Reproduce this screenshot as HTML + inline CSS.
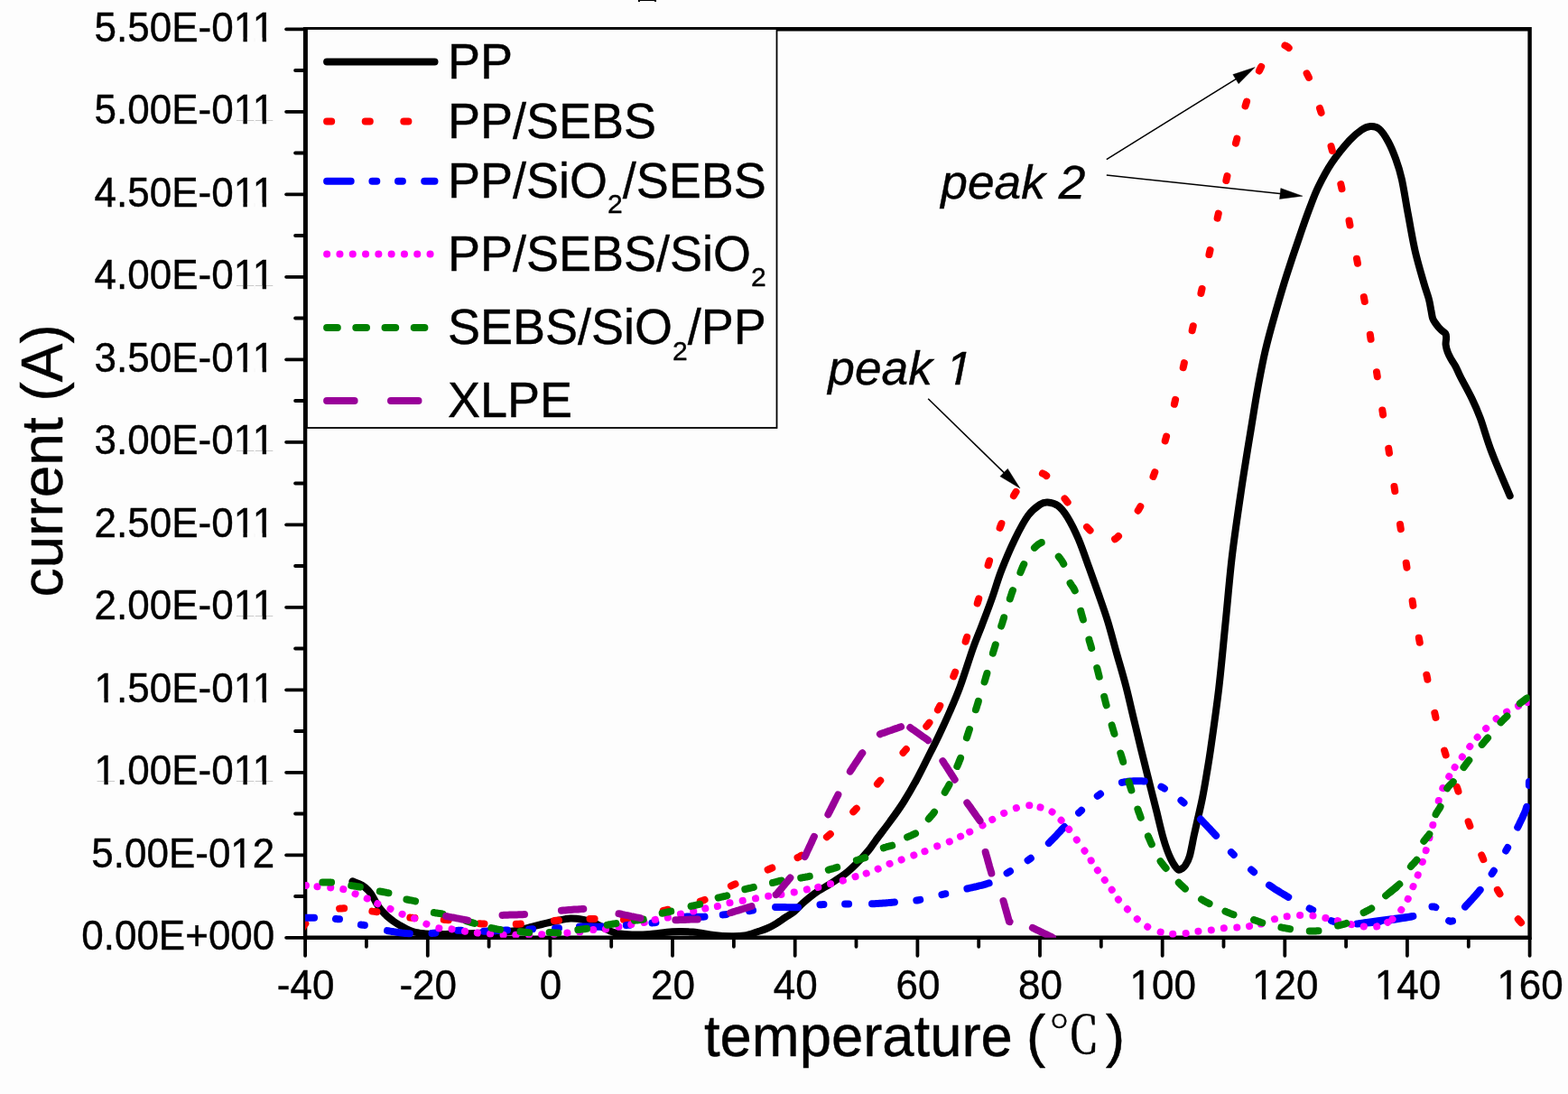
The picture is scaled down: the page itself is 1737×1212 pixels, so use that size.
<!DOCTYPE html>
<html><head><meta charset="utf-8"><title>TSDC current vs temperature</title>
<style>html,body{margin:0;padding:0;background:#fdfdfd;}svg{display:block;}</style>
</head><body>
<svg width="1737" height="1212" viewBox="0 0 1737 1212">
<rect width="1737" height="1212" fill="#fdfdfd"/>
<g stroke="#000" stroke-width="4.4" fill="none" stroke-linecap="square">
<path d="M338.1,32.3 V1038.8 H1694.6 V32.3 Z"/>
</g>
<g stroke="#000" stroke-width="3.8" stroke-linecap="round">
<line x1="317.1" y1="1038.8" x2="338.1" y2="1038.8"/>
<line x1="317.1" y1="947.3" x2="338.1" y2="947.3"/>
<line x1="317.1" y1="855.8" x2="338.1" y2="855.8"/>
<line x1="317.1" y1="764.3" x2="338.1" y2="764.3"/>
<line x1="317.1" y1="672.8" x2="338.1" y2="672.8"/>
<line x1="317.1" y1="581.3" x2="338.1" y2="581.3"/>
<line x1="317.1" y1="489.8" x2="338.1" y2="489.8"/>
<line x1="317.1" y1="398.3" x2="338.1" y2="398.3"/>
<line x1="317.1" y1="306.8" x2="338.1" y2="306.8"/>
<line x1="317.1" y1="215.3" x2="338.1" y2="215.3"/>
<line x1="317.1" y1="123.8" x2="338.1" y2="123.8"/>
<line x1="317.1" y1="32.3" x2="338.1" y2="32.3"/>
<line x1="327.1" y1="993.0" x2="338.1" y2="993.0"/>
<line x1="327.1" y1="901.5" x2="338.1" y2="901.5"/>
<line x1="327.1" y1="810.0" x2="338.1" y2="810.0"/>
<line x1="327.1" y1="718.5" x2="338.1" y2="718.5"/>
<line x1="327.1" y1="627.0" x2="338.1" y2="627.0"/>
<line x1="327.1" y1="535.5" x2="338.1" y2="535.5"/>
<line x1="327.1" y1="444.0" x2="338.1" y2="444.0"/>
<line x1="327.1" y1="352.5" x2="338.1" y2="352.5"/>
<line x1="327.1" y1="261.0" x2="338.1" y2="261.0"/>
<line x1="327.1" y1="169.5" x2="338.1" y2="169.5"/>
<line x1="327.1" y1="78.0" x2="338.1" y2="78.0"/>
<line x1="338.1" y1="1038.8" x2="338.1" y2="1058.8"/>
<line x1="473.8" y1="1038.8" x2="473.8" y2="1058.8"/>
<line x1="609.4" y1="1038.8" x2="609.4" y2="1058.8"/>
<line x1="745.0" y1="1038.8" x2="745.0" y2="1058.8"/>
<line x1="880.7" y1="1038.8" x2="880.7" y2="1058.8"/>
<line x1="1016.4" y1="1038.8" x2="1016.4" y2="1058.8"/>
<line x1="1152.0" y1="1038.8" x2="1152.0" y2="1058.8"/>
<line x1="1287.7" y1="1038.8" x2="1287.7" y2="1058.8"/>
<line x1="1423.3" y1="1038.8" x2="1423.3" y2="1058.8"/>
<line x1="1558.9" y1="1038.8" x2="1558.9" y2="1058.8"/>
<line x1="1694.6" y1="1038.8" x2="1694.6" y2="1058.8"/>
<line x1="405.9" y1="1038.8" x2="405.9" y2="1048.8"/>
<line x1="541.6" y1="1038.8" x2="541.6" y2="1048.8"/>
<line x1="677.2" y1="1038.8" x2="677.2" y2="1048.8"/>
<line x1="812.9" y1="1038.8" x2="812.9" y2="1048.8"/>
<line x1="948.5" y1="1038.8" x2="948.5" y2="1048.8"/>
<line x1="1084.2" y1="1038.8" x2="1084.2" y2="1048.8"/>
<line x1="1219.8" y1="1038.8" x2="1219.8" y2="1048.8"/>
<line x1="1355.5" y1="1038.8" x2="1355.5" y2="1048.8"/>
<line x1="1491.1" y1="1038.8" x2="1491.1" y2="1048.8"/>
<line x1="1626.8" y1="1038.8" x2="1626.8" y2="1048.8"/>
</g>
<defs><clipPath id="pc"><rect x="338.1" y="32.3" width="1356.5" height="1006.5"/></clipPath></defs>
<g clip-path="url(#pc)">
<path d="M390.5,976.3C392.2,977.0 398.1,979.1 401.0,980.8C403.9,982.5 406.1,984.5 408.0,986.5C409.9,988.5 411.0,990.1 412.5,992.5C414.0,994.9 415.4,998.2 417.2,1001.0C418.9,1003.8 420.9,1006.6 423.0,1009.0C425.1,1011.4 426.7,1013.2 429.5,1015.6C432.3,1018.0 436.2,1020.9 439.6,1023.1C443.0,1025.3 447.2,1027.5 450.1,1029.0C453.0,1030.5 454.8,1031.2 457.1,1032.0C459.5,1032.8 461.9,1033.2 464.2,1033.6C466.5,1034.0 468.6,1034.2 471.2,1034.5C473.8,1034.8 475.2,1035.0 480.0,1035.1C484.8,1035.1 493.3,1034.9 500.0,1034.8C506.7,1034.7 513.3,1034.5 520.0,1034.3C526.7,1034.1 534.2,1033.8 540.0,1033.6C545.8,1033.3 549.8,1033.2 555.0,1032.8C560.2,1032.4 565.9,1032.0 571.5,1031.0C577.1,1030.0 584.0,1028.1 588.8,1026.9C593.6,1025.7 595.5,1025.2 600.3,1024.0C605.1,1022.9 612.3,1021.1 617.6,1020.0C622.9,1018.9 627.2,1017.8 632.0,1017.6C636.8,1017.4 642.2,1018.3 646.4,1019.0C650.6,1019.7 653.4,1020.6 657.0,1022.0C660.6,1023.4 664.8,1025.9 668.0,1027.5C671.2,1029.1 673.2,1030.4 676.0,1031.5C678.8,1032.6 681.0,1033.6 685.0,1034.3C689.0,1035.0 694.2,1035.4 700.0,1035.5C705.8,1035.6 712.6,1035.5 720.0,1035.0C727.4,1034.5 736.6,1032.7 744.5,1032.3C752.4,1031.9 759.9,1032.0 767.6,1032.6C775.3,1033.2 783.5,1035.2 790.6,1036.0C797.7,1036.8 804.3,1037.2 810.0,1037.3C815.7,1037.4 820.0,1037.4 825.0,1036.5C830.0,1035.6 835.8,1033.3 839.9,1032.0C844.0,1030.7 846.5,1030.0 849.8,1028.5C853.1,1027.0 856.4,1025.3 859.7,1023.3C863.0,1021.3 866.3,1018.8 869.6,1016.6C872.9,1014.4 876.2,1012.9 879.5,1010.2C882.8,1007.5 885.5,1004.0 889.4,1000.6C893.3,997.2 898.0,993.2 903.0,989.6C908.0,986.0 914.0,982.8 919.5,979.3C925.0,975.8 931.0,972.1 936.0,968.3C941.0,964.5 944.8,960.8 949.2,956.4C953.6,952.0 958.9,946.1 962.4,941.9C965.9,937.7 966.1,936.6 970.0,931.3C973.9,926.0 980.8,917.1 986.0,910.0C991.2,902.9 996.2,896.1 1001.0,888.5C1005.8,880.9 1010.5,872.8 1015.0,864.5C1019.5,856.2 1023.8,847.3 1028.0,839.0C1032.2,830.7 1036.2,822.9 1040.2,814.5C1044.2,806.1 1048.1,797.7 1052.1,788.5C1056.1,779.3 1059.8,771.1 1064.0,759.5C1068.2,747.9 1073.7,730.1 1077.6,719.0C1081.5,707.9 1084.0,702.6 1087.6,693.1C1091.2,683.6 1095.6,672.2 1099.2,662.0C1102.8,651.8 1105.1,642.8 1109.3,632.0C1113.5,621.2 1119.2,607.6 1124.2,597.4C1129.2,587.2 1134.3,577.4 1139.0,571.0C1143.7,564.6 1148.6,561.2 1152.2,558.8C1155.8,556.4 1157.2,556.3 1160.5,556.5C1163.8,556.7 1168.4,557.5 1172.0,560.2C1175.6,562.9 1178.5,566.4 1182.3,572.6C1186.1,578.8 1190.8,588.0 1194.8,597.4C1198.8,606.8 1202.7,618.5 1206.4,628.7C1210.1,638.9 1213.5,648.4 1217.0,658.4C1220.5,668.4 1223.9,677.7 1227.3,688.8C1230.7,699.9 1233.9,712.8 1237.3,724.8C1240.7,736.8 1244.3,748.7 1247.4,760.7C1250.5,772.7 1253.2,785.2 1256.0,796.7C1258.8,808.2 1261.7,820.6 1264.0,830.0C1266.3,839.4 1267.8,845.3 1269.7,853.0C1271.6,860.7 1273.6,868.4 1275.5,876.1C1277.4,883.8 1279.2,890.6 1281.3,899.1C1283.4,907.6 1286.2,919.9 1288.2,927.0C1290.2,934.1 1291.5,937.9 1293.0,942.0C1294.5,946.1 1295.6,948.6 1297.0,951.5C1298.4,954.4 1300.1,957.5 1301.6,959.5C1303.0,961.5 1304.4,963.3 1305.7,963.8C1307.0,964.2 1308.2,963.1 1309.5,962.2C1310.8,961.3 1311.8,960.8 1313.2,958.5C1314.6,956.2 1316.2,954.0 1317.8,948.6C1319.4,943.2 1321.1,932.9 1322.6,926.0C1324.1,919.1 1325.4,913.9 1326.9,907.0C1328.5,900.1 1330.3,892.6 1331.9,884.6C1333.5,876.6 1335.0,867.9 1336.5,858.8C1338.0,849.7 1338.8,846.0 1341.1,830.0C1343.4,814.0 1347.4,786.3 1350.2,762.7C1353.0,739.1 1355.2,713.2 1357.7,688.5C1360.2,663.8 1362.1,639.0 1365.1,614.2C1368.1,589.5 1372.0,563.6 1375.5,540.0C1379.0,516.4 1383.3,490.8 1386.3,472.5C1389.3,454.2 1390.7,444.4 1393.3,430.4C1395.9,416.4 1398.4,402.3 1401.7,388.3C1405.0,374.3 1408.9,360.3 1412.9,346.3C1416.9,332.3 1421.0,318.2 1425.5,304.2C1430.0,290.2 1435.3,274.5 1439.6,262.1C1443.8,249.7 1447.5,239.2 1451.0,230.0C1454.5,220.8 1456.4,215.2 1460.4,207.0C1464.4,198.8 1469.4,189.1 1475.2,180.5C1481.0,171.9 1489.5,161.6 1495.0,155.5C1500.5,149.4 1504.4,146.6 1508.2,144.0C1512.0,141.4 1514.8,140.2 1518.1,140.0C1521.4,139.8 1524.7,140.2 1528.0,143.0C1531.3,145.8 1534.9,151.5 1537.9,157.0C1540.9,162.5 1543.7,169.3 1546.2,176.2C1548.7,183.1 1550.5,188.1 1552.8,198.3C1555.1,208.5 1557.4,224.3 1559.9,237.6C1562.4,250.9 1564.8,265.8 1567.7,278.3C1570.6,290.8 1574.6,304.1 1577.1,312.8C1579.6,321.5 1581.3,325.6 1582.7,330.7C1584.1,335.8 1584.5,339.4 1585.2,343.1C1586.0,346.8 1586.2,350.2 1587.2,353.0C1588.2,355.8 1589.8,357.5 1591.3,359.6C1592.8,361.7 1594.6,363.8 1596.3,365.4C1598.0,367.0 1600.2,368.0 1601.2,369.5C1602.2,371.0 1602.0,372.3 1602.1,374.4C1602.2,376.5 1601.3,379.3 1601.6,381.9C1601.9,384.5 1602.7,387.4 1603.7,390.1C1604.7,392.9 1606.3,395.6 1607.8,398.4C1609.3,401.1 1611.1,403.4 1612.8,406.6C1614.5,409.8 1615.0,411.7 1617.9,417.5C1620.8,423.3 1626.8,433.7 1630.4,441.3C1634.1,448.9 1636.1,453.3 1639.8,463.2C1643.5,473.1 1646.9,486.4 1652.4,500.8C1657.9,515.2 1669.3,541.3 1672.7,549.4" fill="none" stroke="#000000" stroke-width="8" stroke-linecap="round" stroke-linejoin="round"/>
<g fill="none" stroke="#ff0000" stroke-width="8" stroke-linecap="round" stroke-linejoin="round" stroke-dasharray="5.1 36.4">
<path d="M332.0,1034.5 332.2,1034.1 332.5,1033.6 332.8,1032.9 333.1,1032.3 333.5,1031.5 333.8,1030.7 334.3,1029.9 334.7,1029.1 335.1,1028.2 335.6,1027.3 336.1,1026.4 336.7,1025.6 337.2,1024.7 337.8,1023.9 338.4,1023.2 339.0,1022.5 339.6,1021.9 340.2,1021.2 340.9,1020.6 341.5,1020.0 342.2,1019.4 342.8,1018.8 343.5,1018.3 344.3,1017.7 345.0,1017.1 345.9,1016.6 346.7,1016.1 347.7,1015.5 348.6,1015.0 349.7,1014.5 350.8,1014.0 352.0,1013.5 353.3,1013.0 354.6,1012.4 355.8,1012.0" stroke-dashoffset="33.69"/>
<path d="M355.8,1012.0 356.0,1011.9 357.5,1011.3 359.0,1010.8 360.6,1010.2 362.2,1009.7 363.8,1009.2 365.6,1008.7 367.3,1008.2 369.1,1007.8 370.9,1007.4 372.8,1007.0 374.7,1006.8 376.6,1006.5 378.6,1006.4 380.6,1006.3 382.6,1006.3 384.7,1006.4 386.9,1006.4 389.0,1006.6 391.3,1006.8 393.5,1007.0 395.8,1007.3 396.8,1007.4" stroke-dashoffset="20.44"/>
<path d="M396.8,1007.4 398.1,1007.6 400.4,1007.9 402.8,1008.2 405.2,1008.5 407.6,1008.9 410.0,1009.2 412.5,1009.6 414.9,1009.9 417.4,1010.2 419.9,1010.6 422.5,1011.0 425.1,1011.5 427.8,1012.0 430.4,1012.4 433.1,1012.9 435.8,1013.4 435.9,1013.4" stroke-dashoffset="25.79"/>
<path d="M435.9,1013.4 438.5,1013.9 441.2,1014.4 443.9,1014.9 446.6,1015.3 449.2,1015.7 451.8,1016.1 454.4,1016.5 456.9,1016.8 459.4,1017.1 461.8,1017.3 464.2,1017.5 466.5,1017.7 468.9,1017.8 471.2,1017.9 473.5,1018.0 475.6,1018.1" stroke-dashoffset="22.77"/>
<path d="M475.6,1018.1 475.8,1018.1 478.1,1018.2 480.3,1018.3 482.6,1018.4 484.9,1018.5 487.2,1018.6 489.6,1018.7 491.9,1018.9 494.3,1019.1 496.7,1019.3 499.1,1019.6 501.5,1019.8 503.9,1020.1 506.4,1020.4 508.8,1020.7 511.2,1021.1 513.7,1021.4 514.1,1021.4" stroke-dashoffset="25.31"/>
<path d="M514.1,1021.4 516.1,1021.7 518.6,1022.0 521.1,1022.3 523.5,1022.6 526.0,1022.8 528.5,1023.0 531.0,1023.2 533.5,1023.4 536.0,1023.5 538.5,1023.7 541.0,1023.8 543.6,1023.9 546.1,1023.9 548.6,1024.0 551.2,1024.0 553.7,1024.1 554.1,1024.1" stroke-dashoffset="24.09"/>
<path d="M554.1,1024.1 556.3,1024.1 558.8,1024.1 561.4,1024.1 564.0,1024.0 566.5,1024.0 569.1,1023.9 571.7,1023.8 574.3,1023.7 576.9,1023.6 579.5,1023.4 582.1,1023.2 584.8,1023.0 587.4,1022.7 590.1,1022.4 592.8,1022.1 595.4,1021.8" stroke-dashoffset="23.88"/>
<path d="M595.4,1021.8 595.4,1021.8 598.1,1021.5 600.7,1021.2 603.4,1020.9 606.0,1020.6 608.6,1020.4 611.2,1020.1 613.8,1019.9 616.4,1019.7 619.0,1019.5 621.5,1019.4 624.0,1019.2 626.5,1019.0 629.1,1018.9 631.6,1018.8 634.1,1018.6 636.2,1018.5" stroke-dashoffset="22.90"/>
<path d="M636.2,1018.5 636.5,1018.5 639.0,1018.4 641.5,1018.3 643.9,1018.2 646.4,1018.1 648.8,1018.1 651.3,1018.0 653.7,1017.9 656.1,1017.9 658.5,1017.9 660.8,1017.9 663.2,1018.0 665.5,1018.1 667.7,1018.3 670.0,1018.4 672.3,1018.6 674.5,1018.7 674.8,1018.7" stroke-dashoffset="24.18"/>
<path d="M674.8,1018.7 676.8,1018.9 679.1,1019.0 681.4,1019.0 683.8,1019.1 686.1,1019.0 688.5,1018.9 691.0,1018.8 693.5,1018.5 696.1,1018.2 698.7,1017.7 701.4,1017.3 704.1,1016.7 706.8,1016.1 709.6,1015.5 712.4,1014.8 715.2,1014.1 715.5,1014.0" stroke-dashoffset="25.32"/>
<path d="M715.5,1014.0 718.0,1013.4 720.8,1012.6 723.6,1011.9 726.4,1011.1 729.2,1010.4 731.9,1009.7 734.6,1009.0 737.3,1008.3 739.9,1007.7 742.6,1007.0 745.2,1006.4 747.9,1005.9 750.5,1005.3 753.2,1004.7 755.8,1004.1 757.9,1003.6" stroke-dashoffset="21.55"/>
<path d="M757.9,1003.6 758.4,1003.5 760.9,1002.9 763.5,1002.3 766.0,1001.6 768.5,1000.9 771.0,1000.2 773.4,999.4 775.8,998.6 778.2,997.8 780.5,996.9 782.7,996.0 784.9,995.0 787.0,993.9 789.1,992.9 791.2,991.8 793.2,990.7 795.2,989.6 795.4,989.5" stroke-dashoffset="22.92"/>
<path d="M795.4,989.5 797.2,988.4 799.3,987.3 801.3,986.1 803.4,984.9 805.5,983.8 807.7,982.6 809.9,981.5 812.2,980.4 814.6,979.3 817.0,978.2 819.5,977.0 822.1,975.9 824.7,974.7 827.4,973.5 830.0,972.4 832.5,971.3" stroke-dashoffset="24.94"/>
<path d="M832.5,971.3 832.7,971.2 835.3,970.1 838.0,968.9 840.6,967.8 843.2,966.7 845.7,965.6 848.2,964.5 850.7,963.5 853.0,962.5 855.3,961.5 857.5,960.7 859.7,959.8 861.8,959.0 863.9,958.3 865.9,957.5 868.0,956.8 869.6,956.2" stroke-dashoffset="21.77"/>
<path d="M869.6,956.2 870.0,956.0 871.9,955.3 873.9,954.5 875.9,953.7 877.9,952.9 879.8,952.0 881.8,951.0 883.8,950.0 885.8,948.9 887.8,947.7 889.8,946.5 891.9,945.2 893.9,943.9 895.9,942.5 897.9,941.1 900.0,939.7 902.0,938.2 902.3,937.9" stroke-dashoffset="26.28"/>
<path d="M902.3,937.9 904.0,936.7 906.0,935.2 908.0,933.6 909.9,932.1 911.9,930.5 913.8,928.9 915.8,927.3 917.7,925.7 919.6,924.1 921.5,922.4 923.4,920.8 925.3,919.1 927.1,917.4 929.0,915.6 930.8,913.9 932.7,912.1 932.9,912.0" stroke-dashoffset="24.18"/>
<path d="M932.9,912.0 934.5,910.4 936.3,908.6 938.1,906.8 939.9,904.9 941.7,903.1 943.5,901.3 945.2,899.4 947.0,897.6 948.7,895.8 950.4,893.9 952.1,892.0 953.8,890.2 955.4,888.3 957.0,886.4 958.7,884.5 960.3,882.6 960.5,882.3" stroke-dashoffset="23.83"/>
<path d="M960.5,882.3 961.9,880.6 963.5,878.7 965.2,876.7 966.8,874.7 968.5,872.7 970.2,870.7 971.9,868.7 973.6,866.6 975.4,864.5 977.2,862.3 979.0,860.1 980.9,857.9 982.7,855.6 984.6,853.3 986.5,851.0 987.9,849.3" stroke-dashoffset="23.65"/>
<path d="M987.9,849.3 988.4,848.6 990.3,846.3 992.2,844.0 994.1,841.7 995.9,839.5 997.7,837.3 999.5,835.1 1001.3,833.0 1003.0,831.0 1004.7,829.0 1006.4,827.0 1008.1,825.1 1009.8,823.2 1011.5,821.3 1013.2,819.4 1014.9,817.6 1015.1,817.4" stroke-dashoffset="21.62"/>
<path d="M1015.1,817.4 1016.5,815.8 1018.1,814.0 1019.7,812.3 1021.2,810.6 1022.7,808.9 1024.1,807.3 1025.4,805.7 1026.7,804.2 1027.9,802.7 1029.0,801.3 1030.0,800.0 1030.9,798.9 1031.7,797.8 1032.5,796.8 1033.2,795.9 1033.9,794.9 1034.5,794.0 1034.6,793.8" stroke-dashoffset="24.54"/>
<path d="M1034.6,793.8 1035.1,793.1 1035.7,792.1 1036.4,791.0 1037.0,789.9 1037.7,788.7 1038.4,787.3 1039.2,785.8 1040.1,784.2 1041.0,782.4 1042.0,780.5 1043.1,778.4 1044.1,776.3 1045.2,774.0 1046.3,771.7 1047.5,769.4 1048.6,766.9 1049.1,765.8" stroke-dashoffset="32.94"/>
<path d="M1049.1,765.8 1049.7,764.5 1050.9,762.0 1052.0,759.5 1053.1,756.9 1054.2,754.4 1055.2,752.0 1056.2,749.5 1057.2,747.1 1058.1,744.7 1059.0,742.3 1059.9,740.0 1060.8,737.6 1061.6,735.2 1062.4,732.8 1063.3,730.4 1064.0,728.0 1064.1,727.8" stroke-dashoffset="23.62"/>
<path d="M1064.1,727.8 1064.8,725.6 1065.6,723.1 1066.4,720.7 1067.2,718.2 1068.0,715.7 1068.8,713.2 1069.6,710.7 1070.4,708.2 1071.2,705.6 1072.1,703.1 1072.9,700.5 1073.7,697.8 1074.5,695.2 1075.4,692.5 1076.2,689.9 1077.0,687.2 1077.1,687.1" stroke-dashoffset="23.51"/>
<path d="M1077.1,687.1 1077.9,684.5 1078.7,681.8 1079.5,679.1 1080.3,676.5 1081.1,673.8 1081.9,671.1 1082.7,668.4 1083.5,665.8 1084.3,663.2 1085.0,660.5 1085.8,657.9 1086.5,655.3 1087.2,652.6 1088.0,650.0 1088.7,647.4 1089.4,644.8" stroke-dashoffset="21.89"/>
<path d="M1089.4,644.8 1089.4,644.7 1090.1,642.1 1090.8,639.5 1091.6,636.9 1092.3,634.2 1093.0,631.6 1093.8,629.0 1094.5,626.4 1095.3,623.8 1096.1,621.2 1096.9,618.6 1097.7,615.9 1098.4,613.3 1099.2,610.6 1100.0,608.0 1100.8,605.4 1101.6,603.0" stroke-dashoffset="22.21"/>
<path d="M1101.6,603.0 1101.7,602.7 1102.5,600.1 1103.3,597.5 1104.1,595.0 1105.0,592.4 1105.9,589.9 1106.7,587.4 1107.6,584.9 1108.5,582.5 1109.4,580.1 1110.3,577.7 1111.3,575.2 1112.2,572.8 1113.2,570.4 1114.2,568.0 1115.2,565.6 1115.7,564.5" stroke-dashoffset="22.37"/>
<path d="M1115.7,564.5 1116.2,563.3 1117.2,561.0 1118.2,558.8 1119.2,556.6 1120.2,554.5 1121.2,552.5 1122.2,550.6 1123.2,548.7 1124.2,547.0 1125.2,545.4 1126.2,543.8 1127.1,542.3 1128.1,540.9 1129.1,539.6 1130.1,538.3 1131.0,537.1 1132.0,536.0 1133.0,534.9 1134.0,533.9 1135.0,533.0 1135.9,532.1 1136.9,531.2 1137.8,530.5" stroke-dashoffset="24.62"/>
<path d="M1137.8,530.5 1138.0,530.4 1139.0,529.7 1140.0,529.0 1141.0,528.3 1142.0,527.7 1143.0,527.0 1144.0,526.4 1145.0,525.8 1146.1,525.2 1147.1,524.8 1148.1,524.4 1149.1,524.1 1150.2,523.9 1151.3,523.8 1152.4,523.8 1153.5,524.0 1154.7,524.4 1155.9,524.9 1157.2,525.6 1158.5,526.5 1159.9,527.7 1161.3,529.0 1162.7,530.5 1164.1,532.2 1165.6,534.0 1167.1,535.9 1168.7,537.9 1169.8,539.4" stroke-dashoffset="22.53"/>
<path d="M1169.8,539.4 1170.2,540.0 1171.8,542.1 1173.3,544.2 1174.9,546.3 1176.5,548.5 1178.0,550.6 1179.6,552.6 1181.1,554.5 1182.6,556.4 1184.2,558.4 1185.8,560.5 1187.4,562.6 1189.0,564.8 1190.7,566.9 1192.3,569.1 1193.2,570.3" stroke-dashoffset="25.23"/>
<path d="M1193.2,570.3 1193.9,571.3 1195.5,573.4 1197.1,575.4 1198.7,577.4 1200.2,579.3 1201.7,581.1 1203.1,582.8 1204.5,584.4 1205.8,585.8 1207.0,587.1 1208.2,588.2 1209.4,589.3 1210.5,590.3 1211.5,591.2 1212.5,592.0 1213.5,592.8 1214.5,593.4 1215.4,594.0 1216.4,594.6 1217.3,595.1 1218.2,595.5 1219.1,596.0 1220.1,596.3 1220.3,596.4" stroke-dashoffset="24.11"/>
<path d="M1220.3,596.4 1221.0,596.7 1222.0,597.0 1223.0,597.3 1223.9,597.6 1224.8,598.0 1225.6,598.3 1226.5,598.6 1227.4,598.8 1228.2,599.0 1229.1,599.1 1229.9,599.1 1230.8,599.0 1231.8,598.8 1232.7,598.5 1233.8,598.0 1234.8,597.4 1236.0,596.7 1237.2,595.7 1238.5,594.5 1239.9,593.2 1241.4,591.7 1242.9,590.0 1244.5,588.1 1246.2,586.1 1247.8,584.1 1249.5,581.9 1250.6,580.4" stroke-dashoffset="25.88"/>
<path d="M1250.6,580.4 1251.2,579.6 1252.9,577.4 1254.5,575.0 1256.2,572.7 1257.7,570.3 1259.2,568.0 1260.7,565.7 1262.0,563.5 1263.3,561.3 1264.5,559.0 1265.6,556.8 1266.8,554.5 1267.9,552.1 1268.9,549.8 1269.9,547.4 1270.9,545.0 1271.0,544.9" stroke-dashoffset="23.66"/>
<path d="M1271.0,544.9 1271.9,542.6 1272.9,540.2 1273.8,537.8 1274.7,535.3 1275.7,532.9 1276.6,530.5 1277.5,528.0 1278.4,525.6 1279.3,523.2 1280.2,520.7 1281.1,518.3 1282.0,515.8 1282.8,513.4 1283.7,510.9 1284.5,508.5 1285.3,506.0 1285.3,505.9" stroke-dashoffset="23.38"/>
<path d="M1285.3,505.9 1286.1,503.5 1286.9,501.0 1287.7,498.5 1288.4,496.0 1289.2,493.5 1289.9,491.0 1290.7,488.5 1291.4,486.0 1292.1,483.5 1292.8,481.0 1293.5,478.4 1294.1,475.9 1294.8,473.4 1295.4,470.8 1296.0,468.3 1296.7,465.7 1296.7,465.7" stroke-dashoffset="23.20"/>
<path d="M1296.7,465.7 1297.3,463.2 1297.9,460.6 1298.5,458.1 1299.1,455.5 1299.7,452.9 1300.3,450.4 1300.9,447.8 1301.5,445.3 1302.1,442.8 1302.7,440.2 1303.4,437.7 1304.0,435.1 1304.6,432.6 1305.2,430.0 1305.8,427.5 1306.4,425.0 1306.4,425.0" stroke-dashoffset="23.08"/>
<path d="M1306.4,425.0 1307.0,422.4 1307.6,419.9 1308.2,417.3 1308.8,414.8 1309.5,412.2 1310.1,409.7 1310.7,407.1 1311.3,404.6 1311.9,402.0 1312.5,399.5 1313.2,396.9 1313.8,394.4 1314.4,391.8 1315.0,389.3 1315.6,386.7 1316.2,384.2 1316.3,384.2" stroke-dashoffset="23.12"/>
<path d="M1316.3,384.2 1316.9,381.6 1317.5,379.1 1318.1,376.5 1318.7,374.0 1319.3,371.4 1320.0,368.8 1320.6,366.3 1321.2,363.7 1321.8,361.1 1322.4,358.6 1323.1,356.0 1323.7,353.4 1324.3,350.9 1324.9,348.3 1325.5,345.7 1326.2,343.2 1326.2,343.1" stroke-dashoffset="23.01"/>
<path d="M1326.2,343.1 1326.8,340.6 1327.4,338.0 1328.0,335.4 1328.6,332.8 1329.2,330.2 1329.8,327.6 1330.4,325.0 1331.0,322.4 1331.6,319.8 1332.2,317.1 1332.7,314.4 1333.3,311.7 1333.9,309.0 1334.4,306.3 1335.0,303.6 1335.5,301.0" stroke-dashoffset="22.83"/>
<path d="M1335.5,301.0 1335.5,300.9 1336.1,298.2 1336.6,295.5 1337.2,292.8 1337.8,290.1 1338.3,287.4 1338.9,284.8 1339.4,282.1 1340.0,279.5 1340.6,276.9 1341.1,274.3 1341.7,271.8 1342.3,269.3 1342.8,266.7 1343.4,264.2 1344.0,261.7 1344.5,259.3" stroke-dashoffset="22.13"/>
<path d="M1344.5,259.3 1344.6,259.2 1345.1,256.7 1345.7,254.2 1346.3,251.7 1346.9,249.2 1347.4,246.7 1348.0,244.2 1348.6,241.7 1349.2,239.1 1349.8,236.5 1350.4,234.0 1351.0,231.4 1351.6,228.8 1352.2,226.2 1352.8,223.6 1353.4,221.0 1354.0,218.4 1354.0,218.3" stroke-dashoffset="23.33"/>
<path d="M1354.0,218.3 1354.6,215.7 1355.2,213.1 1355.8,210.5 1356.4,207.9 1357.0,205.3 1357.6,202.7 1358.3,200.1 1358.9,197.5 1359.5,194.9 1360.2,192.3 1360.8,189.7 1361.5,187.2 1362.2,184.6 1362.8,182.0 1363.5,179.4 1364.2,176.8" stroke-dashoffset="22.69"/>
<path d="M1364.2,176.8 1364.2,176.8 1364.9,174.2 1365.5,171.7 1366.2,169.1 1366.9,166.5 1367.6,163.9 1368.3,161.4 1368.9,158.8 1369.6,156.2 1370.3,153.6 1370.9,151.0 1371.5,148.4 1372.2,145.8 1372.8,143.2 1373.4,140.6 1374.0,138.0 1374.6,135.5" stroke-dashoffset="22.72"/>
<path d="M1374.6,135.5 1374.6,135.4 1375.3,132.9 1375.9,130.3 1376.6,127.7 1377.3,125.1 1378.0,122.6 1378.7,120.0 1379.5,117.5 1380.3,115.0 1381.1,112.5 1382.0,109.9 1383.0,107.3 1383.9,104.7 1384.9,102.0 1385.9,99.4 1386.9,96.8 1387.5,95.3" stroke-dashoffset="22.76"/>
<path d="M1387.5,95.3 1387.9,94.2 1389.0,91.7 1390.0,89.2 1391.1,86.8 1392.1,84.5 1393.1,82.2 1394.1,80.1 1395.1,78.1 1396.0,76.2 1396.9,74.4 1397.8,72.8 1398.7,71.2 1399.6,69.7 1400.4,68.3 1401.3,67.0 1402.2,65.7 1403.0,64.5 1403.8,63.4 1404.7,62.3 1405.6,61.3 1406.4,60.4 1407.3,59.5 1407.9,58.8" stroke-dashoffset="23.11"/>
<path d="M1407.9,58.8 1408.2,58.6 1409.1,57.8 1410.0,57.0 1410.9,56.2 1411.8,55.4 1412.7,54.6 1413.6,53.8 1414.5,53.0 1415.4,52.3 1416.4,51.6 1417.3,51.0 1418.2,50.6 1419.2,50.2 1420.2,50.0 1421.2,49.9 1422.3,50.0 1423.4,50.3 1424.5,50.8 1425.7,51.5 1427.0,52.5 1428.3,53.7 1429.7,55.1 1431.2,56.7 1432.7,58.5 1434.2,60.5 1435.8,62.6 1437.4,64.8 1438.6,66.6" stroke-dashoffset="22.89"/>
<path d="M1438.6,66.6 1438.9,67.1 1440.5,69.4 1442.0,71.8 1443.5,74.2 1444.9,76.6 1446.3,79.0 1447.6,81.3 1448.8,83.6 1449.9,85.8 1451.0,88.1 1452.0,90.4 1453.0,92.8 1453.9,95.1 1454.8,97.5 1455.6,99.9 1456.5,102.4 1456.6,102.7" stroke-dashoffset="24.16"/>
<path d="M1456.6,102.7 1457.3,104.8 1458.1,107.3 1458.8,109.8 1459.6,112.3 1460.4,114.8 1461.2,117.3 1462.0,119.9 1462.8,122.4 1463.6,124.9 1464.4,127.5 1465.2,130.1 1466.1,132.7 1466.9,135.3 1467.6,137.9 1468.4,140.6 1469.2,143.2 1469.2,143.4" stroke-dashoffset="23.40"/>
<path d="M1469.2,143.4 1470.0,145.9 1470.7,148.6 1471.5,151.2 1472.3,153.9 1473.0,156.6 1473.7,159.2 1474.5,161.9 1475.2,164.5 1475.9,167.1 1476.6,169.8 1477.3,172.4 1478.0,175.1 1478.7,177.7 1479.4,180.4 1480.1,183.0 1480.7,185.5" stroke-dashoffset="22.10"/>
<path d="M1480.7,185.5 1480.8,185.7 1481.4,188.3 1482.1,190.9 1482.7,193.6 1483.4,196.2 1484.0,198.8 1484.7,201.4 1485.3,204.0 1485.9,206.6 1486.5,209.2 1487.1,211.7 1487.7,214.3 1488.3,216.8 1488.9,219.3 1489.5,221.8 1490.0,224.3 1490.6,226.8" stroke-dashoffset="22.33"/>
<path d="M1490.6,226.8 1490.6,226.8 1491.1,229.3 1491.7,231.8 1492.3,234.3 1492.8,236.8 1493.4,239.3 1493.9,241.9 1494.5,244.4 1495.0,247.0 1495.5,249.6 1496.1,252.2 1496.6,254.8 1497.2,257.4 1497.7,260.1 1498.3,262.7 1498.8,265.4 1499.3,268.0 1499.4,268.1" stroke-dashoffset="23.34"/>
<path d="M1499.4,268.1 1499.9,270.7 1500.4,273.4 1500.9,276.0 1501.4,278.7 1502.0,281.3 1502.5,284.0 1503.0,286.7 1503.5,289.3 1504.0,291.9 1504.5,294.6 1505.0,297.2 1505.5,299.9 1506.0,302.5 1506.5,305.2 1507.0,307.8 1507.5,310.4" stroke-dashoffset="22.48"/>
<path d="M1507.5,310.4 1507.5,310.5 1508.0,313.1 1508.5,315.8 1509.0,318.4 1509.4,321.1 1509.9,323.7 1510.4,326.3 1510.8,329.0 1511.3,331.6 1511.8,334.2 1512.2,336.8 1512.6,339.5 1513.1,342.1 1513.5,344.7 1513.9,347.3 1514.4,349.9 1514.8,352.4" stroke-dashoffset="22.54"/>
<path d="M1514.8,352.4 1514.8,352.5 1515.2,355.1 1515.6,357.7 1516.1,360.3 1516.5,362.9 1516.9,365.5 1517.3,368.1 1517.8,370.7 1518.2,373.3 1518.6,375.9 1519.1,378.5 1519.5,381.1 1520.0,383.7 1520.5,386.2 1520.9,388.8 1521.4,391.4 1521.8,394.0 1521.8,394.0" stroke-dashoffset="22.92"/>
<path d="M1521.8,394.0 1522.3,396.5 1522.8,399.1 1523.2,401.7 1523.7,404.3 1524.1,406.9 1524.5,409.5 1525.0,412.1 1525.4,414.7 1525.8,417.3 1526.2,419.9 1526.6,422.6 1527.0,425.2 1527.4,427.9 1527.8,430.5 1528.2,433.1 1528.6,435.8 1528.6,435.8" stroke-dashoffset="23.04"/>
<path d="M1528.6,435.8 1529.0,438.4 1529.3,441.1 1529.7,443.8 1530.1,446.4 1530.5,449.1 1530.9,451.7 1531.3,454.4 1531.7,457.0 1532.1,459.6 1532.5,462.3 1533.0,464.9 1533.4,467.6 1533.8,470.2 1534.3,472.9 1534.7,475.5 1535.2,478.2" stroke-dashoffset="22.67"/>
<path d="M1535.2,478.2 1535.6,480.8 1536.0,483.4 1536.5,486.1 1536.9,488.7 1537.3,491.4 1537.8,494.0 1538.2,496.7 1538.6,499.3 1539.0,501.9 1539.4,504.6 1539.8,507.2 1540.2,509.9 1540.6,512.5 1541.0,515.2 1541.4,517.8 1541.8,520.4" stroke-dashoffset="22.62"/>
<path d="M1541.8,520.4 1541.8,520.5 1542.2,523.1 1542.5,525.8 1542.9,528.4 1543.3,531.0 1543.7,533.7 1544.1,536.3 1544.5,539.0 1544.9,541.6 1545.3,544.2 1545.7,546.9 1546.1,549.5 1546.5,552.1 1546.9,554.7 1547.3,557.3 1547.7,560.0 1548.1,562.6 1548.1,562.6" stroke-dashoffset="22.67"/>
<path d="M1548.1,562.6 1548.5,565.2 1548.9,567.8 1549.3,570.4 1549.8,573.1 1550.2,575.7 1550.6,578.3 1551.0,581.0 1551.4,583.6 1551.8,586.2 1552.2,588.9 1552.6,591.6 1553.1,594.2 1553.5,596.9 1553.9,599.6 1554.3,602.2 1554.7,604.9 1554.7,604.9" stroke-dashoffset="22.80"/>
<path d="M1554.7,604.9 1555.1,607.6 1555.6,610.2 1556.0,612.9 1556.4,615.6 1556.8,618.2 1557.3,620.9 1557.7,623.6 1558.1,626.2 1558.5,628.8 1559.0,631.5 1559.4,634.1 1559.8,636.8 1560.2,639.4 1560.7,642.1 1561.1,644.7 1561.5,647.3" stroke-dashoffset="22.49"/>
<path d="M1561.5,647.3 1561.5,647.4 1561.9,650.0 1562.4,652.6 1562.8,655.2 1563.2,657.9 1563.7,660.5 1564.1,663.1 1564.6,665.7 1565.0,668.3 1565.4,670.9 1565.9,673.5 1566.3,676.1 1566.8,678.6 1567.2,681.2 1567.7,683.8 1568.1,686.3 1568.5,688.8" stroke-dashoffset="22.72"/>
<path d="M1568.5,688.8 1568.5,688.9 1569.0,691.4 1569.4,694.0 1569.9,696.5 1570.4,699.1 1570.8,701.6 1571.3,704.2 1571.8,706.7 1572.3,709.3 1572.8,711.9 1573.3,714.4 1573.8,717.0 1574.3,719.5 1574.9,722.0 1575.4,724.6 1576.0,727.1 1576.5,729.7 1576.5,729.8" stroke-dashoffset="23.23"/>
<path d="M1576.5,729.8 1577.0,732.2 1577.6,734.8 1578.1,737.3 1578.7,739.9 1579.2,742.5 1579.8,745.0 1580.3,747.6 1580.9,750.2 1581.4,752.8 1582.0,755.4 1582.5,758.0 1583.1,760.7 1583.6,763.3 1584.2,766.0 1584.7,768.6 1585.2,771.2 1585.3,771.3" stroke-dashoffset="23.15"/>
<path d="M1585.3,771.3 1585.8,773.9 1586.4,776.6 1586.9,779.2 1587.5,781.9 1588.1,784.5 1588.7,787.1 1589.3,789.8 1589.9,792.4 1590.5,795.0 1591.2,797.6 1591.8,800.3 1592.4,802.9 1593.1,805.5 1593.8,808.1 1594.4,810.8 1595.1,813.3" stroke-dashoffset="22.47"/>
<path d="M1595.1,813.3 1595.1,813.4 1595.8,816.0 1596.5,818.6 1597.2,821.2 1597.9,823.8 1598.6,826.4 1599.4,829.0 1600.1,831.5 1600.9,834.1 1601.7,836.7 1602.5,839.2 1603.3,841.8 1604.2,844.3 1605.0,846.8 1605.9,849.4 1606.8,851.9 1607.6,854.3" stroke-dashoffset="22.48"/>
<path d="M1607.6,854.3 1607.7,854.4 1608.6,856.9 1609.5,859.4 1610.4,861.9 1611.3,864.4 1612.1,866.9 1613.0,869.4 1613.9,871.8 1614.7,874.3 1615.5,876.8 1616.3,879.2 1617.1,881.6 1617.9,884.1 1618.7,886.5 1619.5,888.9 1620.3,891.3 1621.0,893.5" stroke-dashoffset="22.80"/>
<path d="M1621.0,893.5 1621.0,893.7 1621.8,896.1 1622.6,898.5 1623.4,900.9 1624.2,903.2 1625.0,905.6 1625.8,908.0 1626.6,910.3 1627.5,912.7 1628.4,915.1 1629.2,917.4 1630.1,919.7 1631.0,922.0 1631.9,924.3 1632.8,926.7 1633.7,929.0 1634.6,931.3 1634.6,931.4" stroke-dashoffset="23.81"/>
<path d="M1634.6,931.4 1635.5,933.6 1636.4,935.9 1637.4,938.2 1638.3,940.5 1639.3,942.8 1640.3,945.1 1641.3,947.5 1642.3,949.8 1643.3,952.2 1644.4,954.6 1645.4,957.0 1646.4,959.4 1647.5,961.9 1648.6,964.4 1649.6,966.8 1650.7,969.2" stroke-dashoffset="24.08"/>
<path d="M1650.7,969.2 1650.7,969.3 1651.8,971.7 1653.0,974.1 1654.1,976.6 1655.3,978.9 1656.5,981.3 1657.7,983.6 1658.9,985.9 1660.2,988.1 1661.5,990.3 1662.9,992.6 1664.4,994.8 1665.9,997.1 1667.5,999.4 1669.1,1001.6 1670.7,1003.8 1671.2,1004.6" stroke-dashoffset="22.90"/>
<path d="M1671.2,1004.6 1672.3,1006.0 1673.8,1008.1 1675.4,1010.1 1676.9,1012.1 1678.3,1013.9 1679.7,1015.7 1681.0,1017.3 1682.2,1018.8 1683.3,1020.1 1684.3,1021.3 1685.2,1022.3 1686.1,1023.2 1686.9,1024.0 1687.6,1024.6 1688.3,1025.2 1689.0,1025.6 1689.6,1026.1 1690.1,1026.4 1690.7,1026.7 1691.1,1026.9 1691.6,1027.1 1692.0,1027.4 1692.3,1027.6 1692.7,1027.8 1693.0,1028.0" stroke-dashoffset="24.23"/>
</g>
<g fill="none" stroke="#0000ff" stroke-width="8" stroke-linecap="round" stroke-linejoin="round" stroke-dasharray="25 24 4 24.5 4 25">
<path d="M339.0,1016.8 339.4,1016.8 339.9,1016.8 340.4,1016.8 341.0,1016.8 341.7,1016.8 342.4,1016.8 343.2,1016.7 343.9,1016.7 344.8,1016.7 345.6,1016.7 346.5,1016.7 347.4,1016.7 348.3,1016.7 349.2,1016.8 350.1,1016.8 351.0,1016.8 351.9,1016.8 352.9,1016.9 353.9,1016.9 355.0,1017.0 356.1,1017.0 357.2,1017.1 358.4,1017.2 359.5,1017.2 360.6,1017.3 361.8,1017.4 362.9,1017.4 364.0,1017.5 365.1,1017.6 366.1,1017.7 367.1,1017.7 368.0,1017.8 368.9,1017.9 369.7,1017.9 370.5,1018.0 371.2,1018.0 372.0,1018.0 372.6,1018.1 373.3,1018.1 374.0,1018.2 374.7,1018.2 375.4,1018.3 376.0,1018.3 376.8,1018.4 377.5,1018.5 378.3,1018.7 379.1,1018.8 380.0,1019.0 380.9,1019.2 381.9,1019.5 383.0,1019.8 384.1,1020.1 385.2,1020.4 386.3,1020.8 387.5,1021.1 388.0,1021.3" stroke-dashoffset="15.93"/>
<path d="M388.0,1021.3 388.6,1021.5 389.8,1021.9 390.9,1022.2 392.0,1022.6 393.1,1022.9 394.2,1023.2 395.2,1023.5 396.1,1023.8 397.0,1024.0 397.8,1024.2 398.5,1024.3 399.2,1024.4 399.8,1024.5 400.3,1024.6 400.8,1024.7 401.3,1024.7 401.8,1024.7 402.3,1024.8 402.8,1024.8 403.4,1024.9 404.0,1024.9 404.6,1025.0 405.3,1025.2 406.1,1025.3 407.0,1025.5 408.0,1025.7 409.0,1026.0 410.0,1026.3 411.1,1026.6 412.2,1026.9 413.4,1027.2 414.6,1027.6 415.8,1028.0 417.1,1028.3 418.4,1028.7 419.7,1029.1 421.1,1029.4 421.5,1029.5" stroke-dashoffset="65.15"/>
<path d="M421.5,1029.5 422.6,1029.8 424.0,1030.1 425.5,1030.4 427.0,1030.7 428.6,1031.0 430.2,1031.3 432.0,1031.6 433.7,1031.9 435.6,1032.1 437.4,1032.4 439.3,1032.7 441.2,1033.0 443.2,1033.2 445.1,1033.5 447.0,1033.7 448.9,1033.9 450.7,1034.1 452.6,1034.2 454.3,1034.4 456.0,1034.5 457.6,1034.6 459.2,1034.6 460.8,1034.7 460.9,1034.7" stroke-dashoffset="98.78"/>
<path d="M460.9,1034.7 462.3,1034.7 463.8,1034.7 465.3,1034.7 466.8,1034.6 468.2,1034.6 469.7,1034.5 471.1,1034.4 472.6,1034.3 474.0,1034.2 475.5,1034.1 477.0,1034.0 478.5,1033.9 480.0,1033.8 481.6,1033.7 483.2,1033.5 484.9,1033.4 486.6,1033.2 488.3,1033.0 490.0,1032.8 491.7,1032.6 493.4,1032.4 494.7,1032.2" stroke-dashoffset="31.40"/>
<path d="M494.7,1032.2 495.1,1032.2 496.8,1032.0 498.3,1031.8 499.9,1031.6 501.3,1031.4 502.6,1031.2 503.9,1031.1 505.0,1031.0 506.0,1030.9 506.8,1030.8 507.5,1030.8 508.1,1030.7 508.6,1030.7 509.0,1030.7 509.4,1030.7 509.8,1030.7 510.1,1030.7 510.4,1030.7 510.8,1030.7 511.3,1030.7 511.8,1030.7 512.4,1030.8 513.1,1030.8 514.0,1030.8 515.0,1030.8 516.0,1030.9 517.1,1030.9 518.3,1031.0 519.5,1031.1 520.8,1031.1 522.1,1031.2 523.5,1031.3 524.9,1031.4 526.3,1031.5 527.7,1031.5 529.2,1031.6 530.6,1031.6 532.1,1031.7 533.6,1031.7 535.0,1031.7 536.4,1031.7 537.9,1031.7 539.4,1031.6 540.9,1031.6 542.4,1031.5 544.0,1031.4 545.5,1031.4 547.1,1031.3 548.5,1031.2" stroke-dashoffset="65.19"/>
<path d="M548.5,1031.2 548.6,1031.2 550.2,1031.1 551.8,1031.0 553.4,1030.9 555.1,1030.8 556.7,1030.8 558.3,1030.7 560.0,1030.6 561.7,1030.5 563.3,1030.5 565.1,1030.4 566.8,1030.3 568.5,1030.2 570.2,1030.2 572.0,1030.1 573.8,1030.0 575.5,1029.9 577.3,1029.8 579.1,1029.8 580.9,1029.7 582.6,1029.6 584.4,1029.5 586.2,1029.5 588.0,1029.4 589.8,1029.3 591.6,1029.3 593.5,1029.2 595.3,1029.1 597.2,1029.1 599.0,1029.0 600.9,1028.9 602.5,1028.9" stroke-dashoffset="11.43"/>
<path d="M602.5,1028.9 602.8,1028.9 604.6,1028.8 606.5,1028.8 608.3,1028.7 610.1,1028.6 611.9,1028.5 613.6,1028.5 615.3,1028.4 617.0,1028.3 618.6,1028.2 620.2,1028.1 621.7,1028.0 623.2,1027.9 624.6,1027.8 626.0,1027.6 627.4,1027.5 628.8,1027.4 630.2,1027.3 631.6,1027.1 633.0,1027.0 634.5,1026.9 635.7,1026.8" stroke-dashoffset="64.99"/>
<path d="M635.7,1026.8 635.9,1026.8 637.4,1026.7 638.9,1026.7 640.5,1026.6 642.1,1026.6 643.8,1026.5 645.4,1026.5 647.1,1026.5 648.8,1026.5 650.6,1026.6 652.3,1026.6 654.1,1026.6 655.9,1026.6 657.6,1026.7 659.4,1026.7 661.2,1026.7 663.0,1026.7 664.7,1026.7 666.5,1026.6 668.2,1026.6 669.9,1026.5 671.6,1026.5 673.4,1026.4 675.1,1026.3 675.1,1026.3" stroke-dashoffset="100.27"/>
<path d="M675.1,1026.3 676.8,1026.2 678.5,1026.1 680.2,1026.0 681.9,1025.9 683.6,1025.7 685.3,1025.6 687.1,1025.5 688.8,1025.3 690.5,1025.2 692.3,1025.1 694.0,1024.9 695.8,1024.8 697.6,1024.7 699.4,1024.5 701.3,1024.4 703.2,1024.2 705.1,1024.1 707.0,1023.9 709.0,1023.8 710.1,1023.6" stroke-dashoffset="30.27"/>
<path d="M710.1,1023.6 710.9,1023.6 712.8,1023.4 714.7,1023.3 716.5,1023.1 718.3,1022.9 720.1,1022.7 721.8,1022.6 723.4,1022.4 725.0,1022.2 726.5,1022.0 728.0,1021.8 729.4,1021.6 730.8,1021.4 732.1,1021.2 733.4,1021.0 734.7,1020.8 735.9,1020.6 737.1,1020.4 738.3,1020.2 739.5,1020.0 740.6,1019.8 741.7,1019.6 742.8,1019.4 743.9,1019.2 745.0,1019.0 746.1,1018.8 746.3,1018.7" stroke-dashoffset="65.11"/>
<path d="M746.3,1018.7 747.0,1018.6 748.0,1018.3 748.9,1018.1 749.8,1017.9 750.6,1017.6 751.5,1017.4 752.3,1017.1 753.1,1016.9 754.0,1016.7 754.8,1016.5 755.7,1016.3 756.6,1016.1 757.6,1016.0 758.6,1015.8 759.6,1015.7 760.7,1015.6 761.8,1015.6 762.9,1015.5 764.1,1015.5 765.3,1015.5 766.5,1015.6 767.7,1015.6 768.9,1015.6 770.2,1015.7 771.5,1015.7 772.8,1015.8 774.1,1015.8 775.4,1015.8 776.7,1015.8 778.1,1015.8 779.4,1015.7 780.8,1015.6 782.1,1015.5 783.5,1015.4 784.9,1015.3 785.4,1015.2" stroke-dashoffset="96.90"/>
<path d="M785.4,1015.2 786.3,1015.2 787.7,1015.0 789.1,1014.9 790.6,1014.7 792.0,1014.6 793.5,1014.4 795.0,1014.2 796.5,1014.0 798.1,1013.8 799.7,1013.6 801.3,1013.4 802.9,1013.2 804.6,1013.0 806.3,1012.7 808.1,1012.5 809.9,1012.2 811.7,1012.0 813.6,1011.7 815.5,1011.4 817.4,1011.1 817.4,1011.1" stroke-dashoffset="33.57"/>
<path d="M817.4,1011.1 819.3,1010.8 821.2,1010.5 823.1,1010.3 824.9,1010.0 826.8,1009.7 828.6,1009.4 830.3,1009.2 832.0,1008.9 833.6,1008.6 835.2,1008.4 836.7,1008.1 838.2,1007.8 839.7,1007.6 841.1,1007.3 842.5,1007.0 843.9,1006.8 845.3,1006.5 846.8,1006.3 848.2,1006.1 849.7,1005.9 851.2,1005.7 851.7,1005.6" stroke-dashoffset="64.65"/>
<path d="M851.7,1005.6 852.8,1005.5 854.4,1005.3 856.1,1005.2 857.9,1005.1 859.7,1005.0 861.6,1005.0 863.6,1005.0 865.5,1005.0 867.6,1005.1 869.6,1005.1 871.7,1005.2 873.7,1005.2 875.8,1005.3 877.8,1005.3 879.8,1005.3 881.7,1005.3 883.6,1005.3 885.4,1005.3 887.1,1005.2 888.7,1005.1 890.3,1005.0 891.1,1004.9" stroke-dashoffset="99.11"/>
<path d="M891.1,1004.9 891.8,1004.8 893.3,1004.6 894.7,1004.4 896.1,1004.2 897.4,1004.0 898.8,1003.7 900.1,1003.5 901.5,1003.3 902.8,1003.1 904.2,1002.9 905.6,1002.7 907.0,1002.5 908.5,1002.3 910.1,1002.2 911.7,1002.1 913.4,1002.0 915.1,1001.9 916.8,1001.8 918.6,1001.8 920.4,1001.7 922.2,1001.7 924.0,1001.7 924.3,1001.7" stroke-dashoffset="31.43"/>
<path d="M924.3,1001.7 925.8,1001.6 927.6,1001.6 929.4,1001.6 931.2,1001.6 933.0,1001.6 934.7,1001.5 936.4,1001.5 938.1,1001.5 939.7,1001.5 941.3,1001.5 942.9,1001.5 944.5,1001.5 946.0,1001.5 947.5,1001.5 949.0,1001.6 950.6,1001.6 952.1,1001.6 953.6,1001.6 955.1,1001.6 956.7,1001.6 958.3,1001.6 958.3,1001.6" stroke-dashoffset="65.70"/>
<path d="M958.3,1001.6 959.9,1001.6 961.6,1001.6 963.3,1001.5 965.1,1001.4 966.9,1001.3 968.8,1001.2 970.7,1001.1 972.6,1001.0 974.6,1000.8 976.6,1000.7 978.5,1000.5 980.5,1000.4 982.5,1000.2 984.4,1000.1 986.4,999.9 988.3,999.7 990.1,999.6 991.9,999.4 993.6,999.3 995.3,999.2 996.8,999.1 997.9,999.0" stroke-dashoffset="98.78"/>
<path d="M997.9,999.0 998.4,999.0 999.9,998.9 1001.3,998.8 1002.8,998.7 1004.2,998.6 1005.6,998.5 1007.0,998.4 1008.4,998.3 1009.8,998.2 1011.2,998.0 1012.7,997.9 1014.2,997.7 1015.7,997.5 1017.3,997.2 1018.9,996.9 1020.6,996.6 1022.3,996.2 1024.1,995.9 1025.9,995.5 1027.7,995.1 1029.5,994.6 1031.3,994.2 1031.4,994.2" stroke-dashoffset="31.53"/>
<path d="M1031.4,994.2 1033.1,993.7 1034.9,993.3 1036.7,992.8 1038.5,992.4 1040.3,991.9 1042.0,991.5 1043.7,991.1 1045.4,990.7 1047.0,990.3 1048.6,990.0 1050.2,989.6 1051.7,989.2 1053.2,988.9 1054.7,988.5 1056.2,988.2 1057.6,987.8 1059.1,987.5 1060.6,987.1 1062.1,986.8 1063.6,986.4 1064.5,986.2" stroke-dashoffset="65.08"/>
<path d="M1064.5,986.2 1065.1,986.1 1066.6,985.7 1068.2,985.3 1069.8,984.9 1071.4,984.5 1073.1,984.1 1074.9,983.7 1076.6,983.3 1078.4,982.9 1080.2,982.5 1082.0,982.1 1083.8,981.6 1085.6,981.2 1087.3,980.8 1089.1,980.3 1090.8,979.8 1092.5,979.3 1094.1,978.8 1095.7,978.3 1097.2,977.7 1098.7,977.1 1100.0,976.5 1101.3,975.9" stroke-dashoffset="99.38"/>
<path d="M1101.3,975.9 1101.4,975.9 1102.7,975.2 1103.9,974.5 1105.1,973.9 1106.3,973.2 1107.5,972.4 1108.7,971.7 1109.9,971.0 1111.0,970.2 1112.2,969.5 1113.5,968.7 1114.7,967.9 1116.0,967.1 1117.3,966.3 1118.7,965.5 1120.1,964.7 1121.5,963.8 1122.9,963.0 1124.4,962.1 1125.8,961.3 1127.3,960.4 1128.8,959.5 1128.9,959.4" stroke-dashoffset="32.33"/>
<path d="M1128.9,959.4 1130.3,958.6 1131.8,957.7 1133.2,956.7 1134.7,955.8 1136.1,954.9 1137.5,953.9 1138.9,953.0 1140.3,952.0 1141.6,951.0 1143.0,950.1 1144.2,949.1 1145.5,948.1 1146.8,947.1 1148.0,946.1 1149.3,945.1 1150.5,944.1 1151.8,943.1 1153.0,942.0 1154.2,941.0 1155.4,939.9 1156.1,939.3" stroke-dashoffset="65.95"/>
<path d="M1156.1,939.3 1156.7,938.8 1157.9,937.7 1159.1,936.6 1160.4,935.4 1161.7,934.2 1162.9,933.0 1164.2,931.7 1165.5,930.3 1166.8,929.0 1168.2,927.6 1169.5,926.3 1170.8,924.9 1172.0,923.5 1173.3,922.1 1174.6,920.8 1175.8,919.4 1177.1,918.1 1178.3,916.9 1179.5,915.7 1180.6,914.5 1181.7,913.4 1182.8,912.3 1183.3,911.8" stroke-dashoffset="98.71"/>
<path d="M1183.3,911.8 1183.8,911.3 1184.8,910.3 1185.7,909.4 1186.7,908.5 1187.6,907.5 1188.6,906.6 1189.5,905.7 1190.4,904.9 1191.4,903.9 1192.4,903.0 1193.4,902.1 1194.4,901.1 1195.5,900.1 1196.6,899.1 1197.8,898.0 1199.0,896.9 1200.2,895.8 1201.4,894.6 1202.7,893.4 1203.9,892.2 1205.2,891.0 1206.5,889.8 1206.7,889.6" stroke-dashoffset="32.61"/>
<path d="M1206.7,889.6 1207.8,888.6 1209.2,887.4 1210.5,886.2 1211.9,885.0 1213.3,883.9 1214.6,882.8 1216.0,881.7 1217.4,880.7 1218.8,879.7 1220.2,878.7 1221.6,877.7 1223.0,876.7 1224.4,875.8 1225.8,874.8 1227.3,873.9 1228.7,873.0 1230.2,872.1 1231.7,871.3 1233.2,870.5 1234.7,869.8 1235.0,869.6" stroke-dashoffset="65.60"/>
<path d="M1235.0,869.6 1236.2,869.1 1237.8,868.5 1239.4,867.9 1241.0,867.4 1242.7,867.0 1244.4,866.6 1246.2,866.2 1248.1,866.0 1249.9,865.7 1251.8,865.5 1253.8,865.4 1255.7,865.3 1257.6,865.2 1259.5,865.2 1261.3,865.2 1263.1,865.2 1264.9,865.3 1266.6,865.4 1268.2,865.5 1269.7,865.7 1271.1,865.9 1272.4,866.1" stroke-dashoffset="98.13"/>
<path d="M1272.4,866.1 1272.5,866.1 1273.8,866.3 1275.0,866.6 1276.1,866.9 1277.2,867.3 1278.3,867.7 1279.4,868.1 1280.4,868.5 1281.5,869.0 1282.5,869.5 1283.6,870.1 1284.7,870.7 1285.8,871.3 1287.0,871.9 1288.2,872.6 1289.5,873.3 1290.8,874.1 1292.1,874.9 1293.5,875.8 1294.9,876.7 1296.3,877.7 1297.7,878.6 1299.1,879.6 1299.4,879.9" stroke-dashoffset="33.85"/>
<path d="M1299.4,879.9 1300.5,880.6 1301.9,881.7 1303.3,882.7 1304.7,883.8 1306.0,884.9 1307.4,886.0 1308.7,887.0 1310.0,888.1 1311.3,889.2 1312.5,890.3 1313.7,891.3 1314.9,892.5 1316.1,893.6 1317.3,894.7 1318.5,895.9 1319.6,897.0 1320.8,898.2 1321.9,899.4 1323.1,900.5 1324.3,901.7 1324.6,902.1" stroke-dashoffset="66.11"/>
<path d="M1324.6,902.1 1325.4,902.9 1326.6,904.2 1327.8,905.4 1329.0,906.6 1330.2,907.8 1331.5,909.1 1332.7,910.4 1333.9,911.7 1335.2,913.1 1336.5,914.4 1337.7,915.7 1339.0,917.1 1340.3,918.4 1341.5,919.8 1342.7,921.1 1344.0,922.4 1345.2,923.7 1346.4,925.0 1347.6,926.3 1348.7,927.5 1349.8,928.7 1350.9,929.9 1351.9,931.0 1352.0,931.1" stroke-dashoffset="98.78"/>
<path d="M1352.0,931.1 1352.9,932.2 1353.9,933.3 1354.9,934.4 1355.9,935.5 1356.8,936.6 1357.8,937.7 1358.8,938.8 1359.8,939.9 1360.8,941.0 1361.9,942.1 1363.0,943.2 1364.1,944.3 1365.3,945.5 1366.5,946.7 1367.9,947.9 1369.2,949.1 1370.6,950.4 1372.0,951.6 1373.5,952.9 1375.0,954.2 1376.3,955.3" stroke-dashoffset="31.34"/>
<path d="M1376.3,955.3 1376.5,955.4 1377.9,956.7 1379.4,957.9 1380.9,959.2 1382.3,960.4 1383.7,961.6 1385.1,962.7 1386.4,963.8 1387.6,964.9 1388.8,965.9 1389.9,966.9 1390.9,967.9 1391.9,968.8 1392.9,969.7 1393.8,970.6 1394.8,971.5 1395.7,972.3 1396.6,973.2 1397.5,974.0 1398.5,974.9 1399.5,975.7 1400.6,976.6 1401.3,977.2" stroke-dashoffset="64.72"/>
<path d="M1401.3,977.2 1401.7,977.5 1402.8,978.4 1404.1,979.3 1405.4,980.3 1406.8,981.2 1408.3,982.2 1409.8,983.2 1411.4,984.3 1413.0,985.3 1414.6,986.3 1416.3,987.3 1417.9,988.4 1419.6,989.4 1421.3,990.4 1422.9,991.4 1424.6,992.3 1426.2,993.3 1427.8,994.2 1429.3,995.1 1430.8,996.0 1432.3,996.8 1433.8,997.6 1434.2,997.9" stroke-dashoffset="100.60"/>
<path d="M1434.2,997.9 1435.2,998.4 1436.7,999.2 1438.1,999.9 1439.5,1000.7 1441.0,1001.4 1442.4,1002.1 1443.8,1002.9 1445.2,1003.6 1446.7,1004.3 1448.1,1005.1 1449.6,1005.8 1451.0,1006.6 1452.5,1007.4 1454.0,1008.2 1455.5,1009.1 1457.0,1010.0 1458.4,1010.9 1459.9,1011.8 1461.4,1012.8 1462.9,1013.7 1464.3,1014.6" stroke-dashoffset="30.48"/>
<path d="M1464.3,1014.6 1464.4,1014.6 1466.0,1015.6 1467.5,1016.4 1469.0,1017.3 1470.5,1018.1 1472.1,1018.8 1473.6,1019.5 1475.2,1020.2 1476.8,1020.7 1478.3,1021.2 1479.8,1021.6 1481.1,1022.0 1482.4,1022.4 1483.7,1022.7 1485.0,1023.0 1486.3,1023.3 1487.6,1023.5 1489.0,1023.6 1490.6,1023.7 1492.2,1023.8 1494.0,1023.8 1496.0,1023.8 1498.2,1023.8 1500.6,1023.7 1503.3,1023.5 1506.3,1023.3 1509.7,1023.0 1513.5,1022.6 1517.5,1022.2 1521.8,1021.7 1526.2,1021.2 1530.7,1020.6 1534.0,1020.2" stroke-dashoffset="65.57"/>
<path d="M1534.0,1020.2 1535.3,1020.0 1539.9,1019.4 1544.4,1018.8 1548.7,1018.1 1552.9,1017.4 1556.9,1016.8 1560.5,1016.1 1563.8,1015.5 1566.7,1014.9 1569.2,1014.3 1571.4,1013.5 1573.4,1012.7 1575.2,1011.8 1576.7,1010.9 1578.1,1010.0 1579.3,1009.0 1580.4,1008.1 1581.4,1007.3 1582.4,1006.5 1583.3,1005.8 1584.3,1005.3 1585.2,1004.8 1586.2,1004.5 1587.3,1004.4 1588.5,1004.5 1589.8,1004.8 1591.0,1005.5 1592.2,1006.3 1593.4,1007.4 1594.6,1008.6 1595.8,1010.0 1597.0,1011.4 1597.9,1012.5" stroke-dashoffset="99.73"/>
<path d="M1597.9,1012.5 1598.2,1012.9 1599.3,1014.3 1600.5,1015.7 1601.6,1017.0 1602.7,1018.2 1603.8,1019.2 1604.9,1020.0 1605.9,1020.5 1607.0,1020.7 1608.0,1020.6 1609.0,1020.4 1610.0,1019.9 1610.9,1019.3 1611.8,1018.5 1612.7,1017.6 1613.6,1016.6 1614.5,1015.5 1615.4,1014.3 1616.2,1013.1 1617.1,1011.8 1618.0,1010.5 1619.0,1009.3 1619.4,1008.6" stroke-dashoffset="66.94"/>
<path d="M1619.4,1008.6 1619.9,1008.0 1620.9,1006.8 1621.9,1005.7 1623.0,1004.6 1624.0,1003.4 1625.2,1002.2 1626.3,1001.0 1627.5,999.7 1628.6,998.5 1629.8,997.2 1631.0,995.9 1632.2,994.5 1633.4,993.2 1634.6,991.9 1635.7,990.6 1636.8,989.3 1637.9,988.0 1639.0,986.7 1640.0,985.5 1641.0,984.3 1641.9,983.1 1642.8,981.9 1643.3,981.4" stroke-dashoffset="101.09"/>
<path d="M1643.3,981.4 1643.7,980.8 1644.6,979.7 1645.4,978.5 1646.2,977.4 1647.1,976.3 1647.9,975.1 1648.7,974.0 1649.5,972.8 1650.3,971.6 1651.2,970.4 1652.0,969.1 1652.9,967.8 1653.8,966.4 1654.7,965.0 1655.7,963.5 1656.6,962.0 1657.6,960.4 1658.6,958.8 1659.6,957.2 1660.6,955.5 1661.6,953.8 1661.7,953.7" stroke-dashoffset="32.69"/>
<path d="M1661.7,953.7 1662.6,952.2 1663.6,950.5 1664.6,948.8 1665.6,947.2 1666.5,945.5 1667.5,943.9 1668.3,942.3 1669.2,940.8 1670.0,939.3 1670.8,937.8 1671.6,936.4 1672.3,935.0 1673.1,933.6 1673.8,932.2 1674.5,930.8 1675.2,929.4 1675.9,928.0 1676.6,926.6 1677.2,925.2 1677.9,923.8 1678.6,922.3 1679.3,920.8 1680.0,919.3 1680.7,917.8 1681.4,916.2 1682.2,914.6 1683.0,913.0 1683.8,911.3 1684.6,909.6 1685.4,908.0 1686.3,906.2 1687.1,904.5 1687.8,902.8 1688.6,901.1 1689.3,899.4 1690.0,897.6 1690.6,895.9 1691.2,894.2 1691.7,892.6 1692.2,890.9 1692.6,889.2 1692.9,887.4 1693.2,885.6 1693.4,883.7 1693.5,881.9 1693.7,880.0 1693.8,878.1 1693.8,876.3 1693.9,874.5 1693.9,872.8 1693.9,871.1 1693.9,869.6 1693.9,868.2 1693.9,867.0 1694.0,865.9 1694.0,865.0" stroke-dashoffset="64.56"/>
</g>
<path d="M1507,1022.9 L1562.8,1015.4" stroke="#0000ff" stroke-width="8" stroke-linecap="round" fill="none"/>
<g fill="none" stroke="#ff00ff" stroke-width="8" stroke-linecap="round" stroke-linejoin="round" stroke-dasharray="0.1 14.1">
<path d="M338.9,981.1 339.3,981.1 339.9,981.2 340.5,981.2 341.1,981.3 341.8,981.4 342.6,981.4 343.4,981.5 344.3,981.6 345.2,981.7 345.2,981.7" stroke-dashoffset="0.05"/>
<path d="M345.2,981.7 346.1,981.7 347.0,981.8 347.9,981.9 348.8,982.0 349.7,982.1 350.6,982.1 351.5,982.2 352.4,982.3 353.2,982.3 354.1,982.4 355.0,982.5 356.0,982.6 356.9,982.6 357.8,982.7 358.8,982.8 358.9,982.8" stroke-dashoffset="7.93"/>
<path d="M358.9,982.8 359.7,982.8 360.6,982.9 361.6,983.0 362.5,983.1 363.5,983.1 364.4,983.2 365.3,983.3 366.2,983.4 367.1,983.5 368.0,983.6 368.9,983.6 369.8,983.7 370.7,983.8 371.6,983.8 372.5,983.9 373.3,984.0" stroke-dashoffset="6.88"/>
<path d="M373.3,984.0 373.3,984.0 374.2,984.1 375.1,984.2 376.0,984.3 376.8,984.4 377.7,984.6 378.6,984.7 379.4,984.9 380.3,985.1 381.2,985.3 382.0,985.6 382.8,985.9 383.7,986.2 384.5,986.5 385.4,986.8 386.2,987.1 387.0,987.5 387.0,987.5" stroke-dashoffset="7.14"/>
<path d="M387.0,987.5 387.8,987.8 388.7,988.2 389.5,988.6 390.3,988.9 391.1,989.3 391.9,989.6 392.8,990.0 393.6,990.3 394.4,990.6 395.3,990.9 396.1,991.3 396.9,991.6 397.8,991.9 398.6,992.2 399.5,992.5 400.2,992.8" stroke-dashoffset="7.10"/>
<path d="M400.2,992.8 400.3,992.9 401.1,993.2 402.0,993.5 402.8,993.8 403.6,994.2 404.4,994.5 405.2,994.8 406.0,995.2 406.8,995.5 407.6,995.8 408.3,996.2 409.0,996.5 409.7,996.9 410.4,997.2 411.1,997.6 411.8,998.0 412.5,998.3 412.6,998.3" stroke-dashoffset="7.16"/>
<path d="M412.6,998.3 413.2,998.7 413.9,999.0 414.6,999.4 415.3,999.8 416.0,1000.1 416.7,1000.5 417.5,1000.8 418.3,1001.2 419.1,1001.6 420.0,1001.9 420.8,1002.3 421.7,1002.6 422.6,1003.0 423.5,1003.4 424.4,1003.7 425.3,1004.1 425.4,1004.1" stroke-dashoffset="7.83"/>
<path d="M425.4,1004.1 426.2,1004.5 427.1,1004.8 428.1,1005.2 429.0,1005.5 429.9,1005.9 430.8,1006.3 431.6,1006.6 432.5,1007.0 433.3,1007.4 434.2,1007.7 435.0,1008.1 435.8,1008.5 436.7,1008.9 437.5,1009.2 438.3,1009.6 439.0,1009.9" stroke-dashoffset="6.58"/>
<path d="M439.0,1009.9 439.1,1010.0 439.9,1010.3 440.7,1010.7 441.5,1011.1 442.3,1011.4 443.1,1011.8 444.0,1012.1 444.8,1012.5 445.6,1012.8 446.4,1013.1 447.3,1013.4 448.1,1013.7 448.9,1014.0 449.8,1014.3 450.6,1014.5 451.4,1014.8 452.3,1015.1 452.3,1015.1" stroke-dashoffset="7.09"/>
<path d="M452.3,1015.1 453.1,1015.3 454.0,1015.6 454.8,1015.9 455.6,1016.2 456.5,1016.4 457.3,1016.8 458.2,1017.1 459.0,1017.4 459.8,1017.8 460.7,1018.1 461.5,1018.5 462.3,1018.9 463.2,1019.3 464.0,1019.7 464.8,1020.1 465.7,1020.6 465.7,1020.6" stroke-dashoffset="7.16"/>
<path d="M465.7,1020.6 466.5,1021.0 467.3,1021.4 468.2,1021.8 469.0,1022.2 469.9,1022.6 470.7,1023.0 471.5,1023.3 472.4,1023.7 473.3,1024.0 474.1,1024.4 475.0,1024.7 475.8,1025.1 476.7,1025.4 477.6,1025.7 478.4,1026.0 479.3,1026.3" stroke-dashoffset="6.84"/>
<path d="M479.3,1026.3 479.3,1026.3 480.2,1026.6 481.0,1026.9 481.9,1027.2 482.8,1027.4 483.7,1027.7 484.5,1027.9 485.4,1028.1 486.3,1028.3 487.2,1028.5 488.1,1028.6 489.0,1028.7 489.8,1028.8 490.7,1028.9 491.6,1028.9 492.5,1029.0 493.4,1029.0 493.4,1029.0" stroke-dashoffset="6.92"/>
<path d="M493.4,1029.0 494.3,1029.0 495.2,1029.0 496.1,1029.1 497.0,1029.1 497.9,1029.2 498.8,1029.2 499.7,1029.3 500.6,1029.4 501.5,1029.5 502.4,1029.6 503.3,1029.8 504.2,1029.9 505.1,1030.1 506.0,1030.2 506.9,1030.4 507.8,1030.6" stroke-dashoffset="7.07"/>
<path d="M507.8,1030.6 507.8,1030.6 508.7,1030.7 509.6,1030.9 510.5,1031.1 511.4,1031.2 512.3,1031.4 513.2,1031.5 514.1,1031.7 515.0,1031.8 515.9,1031.9 516.8,1032.1 517.6,1032.2 518.5,1032.3 519.4,1032.4 520.2,1032.5 521.1,1032.6 521.9,1032.7" stroke-dashoffset="6.95"/>
<path d="M521.9,1032.7 522.0,1032.7 522.8,1032.8 523.7,1032.9 524.5,1033.0 525.4,1033.1 526.3,1033.2 527.1,1033.3 528.0,1033.4 528.9,1033.5 529.8,1033.6 530.7,1033.7 531.6,1033.7 532.4,1033.8 533.3,1033.9 534.2,1034.0 535.1,1034.0 536.0,1034.1 536.0,1034.1" stroke-dashoffset="7.25"/>
<path d="M536.0,1034.1 536.9,1034.1 537.8,1034.2 538.7,1034.3 539.6,1034.3 540.5,1034.4 541.4,1034.5 542.3,1034.5 543.2,1034.6 544.1,1034.7 545.0,1034.8 545.9,1034.8 546.8,1034.9 547.7,1035.0 548.6,1035.1 549.5,1035.2 550.4,1035.3" stroke-dashoffset="7.08"/>
<path d="M550.4,1035.3 550.4,1035.3 551.3,1035.4 552.2,1035.4 553.1,1035.5 554.0,1035.6 554.9,1035.6 555.8,1035.7 556.7,1035.8 557.6,1035.8 558.5,1035.8 559.4,1035.9 560.2,1035.9 561.1,1035.9 562.0,1035.9 562.8,1035.9 563.7,1035.9 564.5,1035.9 564.5,1035.9" stroke-dashoffset="7.02"/>
<path d="M564.5,1035.9 565.4,1035.9 566.3,1035.9 567.1,1035.9 568.0,1035.8 568.9,1035.8 569.7,1035.8 570.6,1035.8 571.5,1035.8 572.4,1035.8 573.3,1035.8 574.2,1035.8 575.1,1035.7 576.0,1035.7 576.9,1035.7 577.8,1035.7 578.7,1035.7 578.8,1035.7" stroke-dashoffset="7.30"/>
<path d="M578.8,1035.7 579.6,1035.6 580.6,1035.6 581.5,1035.6 582.4,1035.6 583.3,1035.6 584.2,1035.5 585.1,1035.5 586.0,1035.5 586.9,1035.5 587.8,1035.5 588.7,1035.4 589.6,1035.4 590.5,1035.4 591.4,1035.4 592.3,1035.4 593.1,1035.3" stroke-dashoffset="7.00"/>
<path d="M593.1,1035.3 593.1,1035.3 594.0,1035.3 594.9,1035.3 595.8,1035.3 596.7,1035.3 597.6,1035.3 598.4,1035.2 599.3,1035.2 600.2,1035.2 601.1,1035.2 601.9,1035.2 602.8,1035.2 603.7,1035.2 604.5,1035.2 605.4,1035.2 606.2,1035.2 607.1,1035.2 607.1,1035.2" stroke-dashoffset="7.15"/>
<path d="M607.1,1035.2 607.9,1035.2 608.8,1035.2 609.7,1035.2 610.5,1035.1 611.4,1035.1 612.2,1035.1 613.1,1035.0 614.0,1035.0 614.9,1034.9 615.8,1034.9 616.7,1034.8 617.6,1034.7 618.5,1034.6 619.4,1034.5 620.3,1034.4 621.2,1034.3 621.2,1034.3" stroke-dashoffset="7.35"/>
<path d="M621.2,1034.3 622.1,1034.2 623.0,1034.1 623.9,1034.0 624.8,1033.9 625.7,1033.8 626.6,1033.7 627.5,1033.6 628.4,1033.5 629.3,1033.4 630.2,1033.4 631.0,1033.3 631.9,1033.2 632.7,1033.2 633.6,1033.2 634.5,1033.1 635.3,1033.1 635.4,1033.1" stroke-dashoffset="7.01"/>
<path d="M635.4,1033.1 636.2,1033.0 637.0,1033.0 637.9,1032.9 638.8,1032.8 639.6,1032.8 640.5,1032.7 641.4,1032.6 642.3,1032.5 643.2,1032.4 644.1,1032.2 645.0,1032.1 646.0,1031.9 646.9,1031.8 647.9,1031.6 648.8,1031.4 649.7,1031.2" stroke-dashoffset="7.28"/>
<path d="M649.7,1031.2 649.8,1031.2 650.7,1031.0 651.6,1030.9 652.6,1030.7 653.5,1030.5 654.5,1030.4 655.4,1030.2 656.3,1030.1 657.2,1030.0 658.1,1029.9 659.0,1029.8 659.8,1029.8 660.7,1029.8 661.6,1029.7 662.4,1029.7 663.3,1029.7 664.1,1029.7" stroke-dashoffset="6.69"/>
<path d="M664.1,1029.7 664.1,1029.7 665.0,1029.7 665.8,1029.7 666.7,1029.7 667.5,1029.7 668.4,1029.6 669.3,1029.6 670.1,1029.5 671.0,1029.4 671.9,1029.3 672.8,1029.2 673.7,1029.0 674.6,1028.8 675.5,1028.7 676.4,1028.5 677.3,1028.3 678.2,1028.1 678.2,1028.1" stroke-dashoffset="7.34"/>
<path d="M678.2,1028.1 679.1,1027.9 680.0,1027.7 680.9,1027.5 681.8,1027.3 682.7,1027.1 683.6,1026.9 684.5,1026.8 685.4,1026.6 686.3,1026.4 687.2,1026.3 688.0,1026.1 688.9,1026.0 689.8,1025.8 690.6,1025.7 691.5,1025.6 692.3,1025.4" stroke-dashoffset="6.91"/>
<path d="M692.3,1025.4 692.4,1025.4 693.2,1025.3 694.1,1025.1 694.9,1025.0 695.8,1024.9 696.7,1024.7 697.5,1024.6 698.4,1024.4 699.3,1024.3 700.2,1024.2 701.1,1024.0 702.0,1023.9 702.9,1023.7 703.8,1023.6 704.7,1023.5 705.6,1023.3 706.5,1023.2" stroke-dashoffset="7.21"/>
<path d="M706.5,1023.2 706.6,1023.2 707.5,1023.1 708.4,1022.9 709.3,1022.8 710.2,1022.6 711.0,1022.5 711.9,1022.3 712.8,1022.2 713.6,1022.0 714.4,1021.8 715.2,1021.6 716.0,1021.4 716.7,1021.2 717.5,1021.0 718.2,1020.8 718.9,1020.6 719.7,1020.4" stroke-dashoffset="7.01"/>
<path d="M719.7,1020.4 719.7,1020.4 720.4,1020.2 721.1,1020.0 721.8,1019.8 722.6,1019.6 723.3,1019.4 724.1,1019.2 724.9,1019.0 725.7,1018.8 726.5,1018.6 727.4,1018.5 728.2,1018.3 729.1,1018.2 730.0,1018.1 730.8,1017.9 731.7,1017.8 732.6,1017.7 732.8,1017.7" stroke-dashoffset="7.99"/>
<path d="M732.8,1017.7 733.5,1017.6 734.4,1017.4 735.3,1017.3 736.2,1017.2 737.1,1017.0 738.0,1016.9 738.9,1016.7 739.8,1016.5 740.7,1016.3 741.6,1016.1 742.5,1015.9 743.3,1015.6 744.2,1015.4 745.1,1015.1 746.0,1014.9 746.9,1014.6 746.9,1014.6" stroke-dashoffset="7.11"/>
<path d="M746.9,1014.6 747.8,1014.3 748.7,1014.1 749.6,1013.8 750.4,1013.6 751.3,1013.3 752.2,1013.1 753.1,1012.8 754.0,1012.6 754.9,1012.4 755.8,1012.2 756.7,1012.0 757.6,1011.8 758.5,1011.6 759.4,1011.4 760.3,1011.2 761.1,1011.0" stroke-dashoffset="6.89"/>
<path d="M761.1,1011.0 761.2,1011.0 762.1,1010.8 763.0,1010.6 763.9,1010.4 764.8,1010.3 765.7,1010.1 766.6,1009.9 767.4,1009.7 768.3,1009.5 769.1,1009.3 770.0,1009.1 770.8,1008.9 771.6,1008.7 772.4,1008.5 773.2,1008.3 774.0,1008.1 774.8,1007.9" stroke-dashoffset="6.93"/>
<path d="M774.8,1007.9 774.8,1007.9 775.6,1007.7 776.4,1007.5 777.2,1007.3 778.0,1007.1 778.8,1006.9 779.7,1006.8 780.5,1006.6 781.3,1006.4 782.1,1006.2 783.0,1006.1 783.8,1005.9 784.7,1005.8 785.5,1005.6 786.4,1005.5 787.2,1005.4 788.1,1005.2 788.1,1005.2" stroke-dashoffset="7.57"/>
<path d="M788.1,1005.2 788.9,1005.1 789.8,1005.0 790.6,1004.8 791.5,1004.7 792.3,1004.5 793.2,1004.4 794.0,1004.2 794.9,1004.0 795.7,1003.8 796.6,1003.6 797.4,1003.4 798.3,1003.1 799.1,1002.9 800.0,1002.6 800.8,1002.4 801.7,1002.1 801.7,1002.1" stroke-dashoffset="7.34"/>
<path d="M801.7,1002.1 802.5,1001.8 803.4,1001.6 804.2,1001.3 805.1,1001.1 805.9,1000.8 806.8,1000.6 807.6,1000.4 808.5,1000.2 809.4,1000.0 810.2,999.8 811.1,999.7 812.0,999.5 812.9,999.3 813.8,999.2 814.7,999.1 815.6,998.9 815.6,998.9" stroke-dashoffset="7.19"/>
<path d="M815.6,998.9 816.4,998.8 817.3,998.6 818.2,998.5 819.1,998.4 820.0,998.2 820.9,998.1 821.8,998.0 822.7,997.8 823.6,997.6 824.5,997.5 825.4,997.3 826.3,997.2 827.2,997.0 828.1,996.9 829.0,996.7 829.9,996.6 829.9,996.6" stroke-dashoffset="7.05"/>
<path d="M829.9,996.6 830.7,996.4 831.6,996.2 832.5,996.1 833.4,995.9 834.3,995.8 835.2,995.6 836.1,995.5 837.0,995.3 837.9,995.1 838.8,995.0 839.7,994.8 840.6,994.7 841.4,994.5 842.3,994.3 843.2,994.2 844.1,994.0" stroke-dashoffset="6.99"/>
<path d="M844.1,994.0 844.1,994.0 845.0,993.8 845.9,993.7 846.8,993.5 847.7,993.4 848.5,993.2 849.4,993.1 850.3,992.9 851.2,992.8 852.1,992.7 853.0,992.5 853.9,992.4 854.7,992.3 855.6,992.2 856.5,992.1 857.4,992.0 858.3,991.9 858.3,991.9" stroke-dashoffset="7.04"/>
<path d="M858.3,991.9 859.2,991.8 860.1,991.7 861.0,991.6 861.8,991.5 862.7,991.4 863.6,991.3 864.5,991.1 865.4,991.0 866.3,990.9 867.2,990.7 868.1,990.6 869.0,990.4 869.9,990.3 870.8,990.1 871.7,990.0 872.6,989.8 872.6,989.8" stroke-dashoffset="7.09"/>
<path d="M872.6,989.8 873.4,989.7 874.3,989.5 875.2,989.3 876.1,989.2 877.0,989.0 877.9,988.8 878.8,988.7 879.7,988.5 880.6,988.3 881.5,988.1 882.4,987.9 883.3,987.8 884.2,987.6 885.1,987.4 886.0,987.2 886.8,987.0" stroke-dashoffset="6.99"/>
<path d="M886.8,987.0 886.9,986.9 887.8,986.7 888.7,986.5 889.6,986.3 890.5,986.1 891.4,986.0 892.2,985.8 893.1,985.6 893.9,985.4 894.7,985.2 895.5,985.1 896.3,984.9 897.1,984.8 897.9,984.6 898.6,984.5 899.4,984.3 900.1,984.2" stroke-dashoffset="6.98"/>
<path d="M900.1,984.2 900.1,984.2 900.9,984.0 901.6,983.9 902.4,983.7 903.1,983.6 903.9,983.4 904.7,983.3 905.5,983.1 906.3,982.9 907.1,982.7 908.0,982.5 908.8,982.3 909.7,982.1 910.5,981.8 911.4,981.6 912.2,981.4 913.1,981.1 913.2,981.1" stroke-dashoffset="7.92"/>
<path d="M913.2,981.1 914.0,980.9 914.9,980.6 915.7,980.4 916.6,980.1 917.5,979.9 918.4,979.7 919.2,979.4 920.1,979.2 921.0,979.0 921.8,978.8 922.7,978.5 923.5,978.3 924.4,978.1 925.2,977.9 926.1,977.7 927.0,977.4 927.0,977.4" stroke-dashoffset="7.11"/>
<path d="M927.0,977.4 927.8,977.2 928.7,977.0 929.5,976.8 930.4,976.6 931.2,976.3 932.1,976.1 932.9,975.8 933.8,975.6 934.7,975.3 935.5,975.1 936.4,974.8 937.3,974.5 938.1,974.3 939.0,974.0 939.9,973.7 940.7,973.4" stroke-dashoffset="7.17"/>
<path d="M940.7,973.4 940.7,973.4 941.6,973.1 942.5,972.8 943.3,972.5 944.2,972.3 945.0,972.0 945.9,971.7 946.7,971.5 947.5,971.2 948.3,971.0 949.1,970.7 949.9,970.5 950.6,970.3 951.4,970.1 952.1,969.9 952.9,969.6 953.6,969.4" stroke-dashoffset="7.06"/>
<path d="M953.6,969.4 953.6,969.4 954.4,969.2 955.1,969.0 955.9,968.8 956.6,968.6 957.4,968.4 958.1,968.1 958.9,967.9 959.7,967.6 960.5,967.3 961.3,967.0 962.1,966.8 962.9,966.5 963.7,966.2 964.5,965.9 965.3,965.5 966.2,965.2 966.2,965.2" stroke-dashoffset="7.89"/>
<path d="M966.2,965.2 967.0,964.9 967.8,964.6 968.6,964.3 969.4,963.9 970.3,963.6 971.1,963.3 971.9,962.9 972.7,962.6 973.5,962.3 974.3,961.9 975.1,961.6 975.9,961.2 976.7,960.8 977.5,960.5 978.3,960.1 979.1,959.7" stroke-dashoffset="7.28"/>
<path d="M979.1,959.7 979.2,959.7 980.0,959.3 980.8,959.0 981.6,958.6 982.4,958.2 983.2,957.9 984.0,957.6 984.8,957.2 985.6,956.9 986.4,956.6 987.2,956.3 988.0,956.0 988.8,955.7 989.6,955.4 990.4,955.2 991.2,954.9 992.1,954.7 992.1,954.6" stroke-dashoffset="7.20"/>
<path d="M992.1,954.6 992.9,954.4 993.7,954.1 994.5,953.9 995.3,953.6 996.1,953.3 996.9,953.1 997.8,952.8 998.6,952.5 999.4,952.2 1000.3,951.9 1001.1,951.6 1002.0,951.3 1002.9,951.0 1003.8,950.6 1004.6,950.3 1005.5,950.0" stroke-dashoffset="7.39"/>
<path d="M1005.5,950.0 1005.5,950.0 1006.4,949.7 1007.2,949.4 1008.1,949.0 1009.0,948.7 1009.8,948.4 1010.7,948.1 1011.5,947.8 1012.3,947.5 1013.1,947.2 1013.9,946.9 1014.7,946.7 1015.4,946.4 1016.2,946.2 1016.9,945.9 1017.7,945.7 1018.4,945.4 1018.4,945.4" stroke-dashoffset="6.96"/>
<path d="M1018.4,945.4 1019.1,945.1 1019.9,944.9 1020.6,944.6 1021.4,944.4 1022.1,944.1 1022.9,943.8 1023.7,943.5 1024.5,943.2 1025.3,942.9 1026.1,942.5 1027.0,942.2 1027.8,941.8 1028.7,941.5 1029.5,941.1 1030.4,940.7 1031.3,940.3 1031.4,940.3" stroke-dashoffset="7.78"/>
<path d="M1031.4,940.3 1032.1,940.0 1033.0,939.6 1033.9,939.2 1034.7,938.8 1035.6,938.5 1036.5,938.1 1037.3,937.7 1038.2,937.4 1039.1,937.1 1039.9,936.7 1040.8,936.4 1041.6,936.1 1042.5,935.8 1043.4,935.5 1044.2,935.2 1045.0,934.9" stroke-dashoffset="6.81"/>
<path d="M1045.0,934.9 1045.1,934.9 1045.9,934.6 1046.8,934.3 1047.6,934.0 1048.5,933.7 1049.3,933.4 1050.2,933.1 1051.0,932.7 1051.8,932.4 1052.6,932.1 1053.4,931.7 1054.2,931.4 1055.0,931.0 1055.8,930.6 1056.6,930.2 1057.4,929.9 1058.0,929.6" stroke-dashoffset="7.00"/>
<path d="M1058.0,929.6 1058.2,929.5 1058.9,929.1 1059.7,928.8 1060.5,928.4 1061.2,928.0 1061.9,927.6 1062.7,927.3 1063.4,926.9 1064.1,926.6 1064.8,926.3 1065.4,926.0 1066.1,925.6 1066.7,925.3 1067.3,925.1 1067.9,924.8 1068.4,924.5 1069.0,924.2 1069.2,924.1" stroke-dashoffset="7.45"/>
<path d="M1069.2,924.1 1069.6,923.9 1070.2,923.6 1070.8,923.3 1071.4,923.0 1072.1,922.7 1072.8,922.3 1073.5,922.0 1074.2,921.6 1075.0,921.2 1075.8,920.8 1076.7,920.4 1077.6,919.9 1078.5,919.5 1079.4,919.0 1080.4,918.6 1081.3,918.1 1081.4,918.1" stroke-dashoffset="8.61"/>
<path d="M1081.4,918.1 1082.3,917.6 1083.2,917.1 1084.1,916.7 1085.1,916.2 1086.0,915.7 1086.9,915.3 1087.7,914.8 1088.5,914.4 1089.3,914.0 1090.0,913.6 1090.7,913.1 1091.4,912.7 1092.1,912.3 1092.7,911.9 1093.4,911.5 1093.9,911.2" stroke-dashoffset="6.24"/>
<path d="M1093.9,911.2 1094.0,911.1 1094.6,910.7 1095.2,910.3 1095.9,909.9 1096.5,909.5 1097.2,909.1 1097.9,908.7 1098.6,908.3 1099.3,907.9 1100.0,907.5 1100.8,907.0 1101.6,906.6 1102.4,906.2 1103.1,905.7 1103.9,905.3 1104.8,904.8 1105.6,904.4 1105.7,904.3" stroke-dashoffset="7.95"/>
<path d="M1105.7,904.3 1106.4,903.9 1107.2,903.5 1108.0,903.0 1108.9,902.6 1109.7,902.1 1110.5,901.7 1111.4,901.3 1112.2,900.9 1113.0,900.5 1113.9,900.1 1114.7,899.7 1115.6,899.3 1116.4,898.9 1117.2,898.5 1118.1,898.1 1118.9,897.7" stroke-dashoffset="6.91"/>
<path d="M1118.9,897.7 1119.0,897.7 1119.8,897.4 1120.7,897.0 1121.5,896.7 1122.4,896.3 1123.3,896.0 1124.1,895.7 1125.0,895.4 1125.9,895.1 1126.8,894.8 1127.7,894.6 1128.6,894.3 1129.5,894.1 1130.4,893.8 1131.3,893.6 1132.3,893.4 1133.0,893.2" stroke-dashoffset="6.80"/>
<path d="M1133.0,893.2 1133.2,893.1 1134.1,893.0 1135.0,892.8 1135.9,892.6 1136.8,892.5 1137.7,892.4 1138.6,892.3 1139.5,892.2 1140.3,892.2 1141.1,892.2 1141.9,892.2 1142.7,892.3 1143.5,892.3 1144.2,892.4 1145.0,892.5 1145.7,892.7 1146.5,892.8" stroke-dashoffset="6.88"/>
<path d="M1146.5,892.8 1146.5,892.8 1147.2,893.0 1148.0,893.1 1148.7,893.3 1149.4,893.5 1150.2,893.7 1151.0,894.0 1151.7,894.2 1152.5,894.4 1153.3,894.6 1154.1,894.9 1154.9,895.1 1155.8,895.4 1156.6,895.6 1157.4,895.9 1158.3,896.2 1159.1,896.4 1159.2,896.5" stroke-dashoffset="8.02"/>
<path d="M1159.2,896.5 1160.0,896.8 1160.8,897.1 1161.6,897.4 1162.4,897.8 1163.2,898.2 1164.0,898.5 1164.8,899.0 1165.5,899.4 1166.2,899.9 1166.9,900.4 1167.6,900.9 1168.3,901.4 1168.9,902.0 1169.6,902.6 1170.2,903.2 1170.8,903.8 1170.8,903.8" stroke-dashoffset="7.26"/>
<path d="M1170.8,903.8 1171.4,904.4 1172.0,905.0 1172.7,905.7 1173.2,906.3 1173.8,906.9 1174.4,907.6 1175.0,908.2 1175.6,908.8 1176.2,909.4 1176.7,910.0 1177.3,910.6 1177.9,911.2 1178.4,911.9 1178.9,912.5 1179.5,913.1 1180.0,913.7 1180.0,913.7" stroke-dashoffset="7.33"/>
<path d="M1180.0,913.7 1180.5,914.3 1181.0,915.0 1181.6,915.6 1182.1,916.3 1182.6,916.9 1183.1,917.6 1183.7,918.2 1184.2,918.9 1184.7,919.6 1185.3,920.3 1185.8,921.0 1186.3,921.7 1186.9,922.4 1187.4,923.1 1188.0,923.8 1188.5,924.5 1188.6,924.6" stroke-dashoffset="7.61"/>
<path d="M1188.6,924.6 1189.0,925.2 1189.6,926.0 1190.1,926.7 1190.6,927.4 1191.2,928.2 1191.7,928.9 1192.3,929.7 1192.8,930.4 1193.3,931.1 1193.9,931.9 1194.4,932.7 1195.0,933.4 1195.6,934.2 1196.1,935.0 1196.7,935.8 1197.2,936.5" stroke-dashoffset="7.07"/>
<path d="M1197.2,936.5 1197.2,936.5 1197.8,937.3 1198.3,938.1 1198.9,938.9 1199.4,939.6 1200.0,940.4 1200.5,941.1 1201.0,941.9 1201.5,942.6 1202.0,943.3 1202.5,944.0 1202.9,944.7 1203.4,945.4 1203.9,946.1 1204.3,946.8 1204.8,947.4 1205.1,948.0" stroke-dashoffset="6.76"/>
<path d="M1205.1,948.0 1205.2,948.1 1205.6,948.8 1206.1,949.4 1206.5,950.1 1206.9,950.7 1207.4,951.4 1207.8,952.1 1208.3,952.7 1208.7,953.4 1209.1,954.1 1209.6,954.8 1210.0,955.4 1210.5,956.1 1210.9,956.8 1211.4,957.5 1211.8,958.1 1212.3,958.8 1212.3,958.8" stroke-dashoffset="7.76"/>
<path d="M1212.3,958.8 1212.7,959.5 1213.1,960.1 1213.6,960.8 1214.1,961.5 1214.5,962.2 1215.0,962.9 1215.4,963.5 1215.9,964.2 1216.4,964.9 1216.9,965.6 1217.3,966.2 1217.8,966.9 1218.3,967.6 1218.8,968.2 1219.3,968.9 1219.8,969.6 1219.8,969.6" stroke-dashoffset="7.76"/>
<path d="M1219.8,969.6 1220.3,970.3 1220.8,971.0 1221.3,971.6 1221.8,972.3 1222.3,973.0 1222.8,973.6 1223.3,974.3 1223.8,975.0 1224.3,975.7 1224.8,976.4 1225.3,977.0 1225.8,977.7 1226.3,978.4 1226.8,979.0 1227.3,979.7 1227.8,980.4" stroke-dashoffset="7.56"/>
<path d="M1227.8,980.4 1227.8,980.4 1228.3,981.1 1228.8,981.8 1229.3,982.4 1229.8,983.1 1230.3,983.8 1230.7,984.4 1231.2,985.1 1231.7,985.8 1232.2,986.5 1232.6,987.1 1233.1,987.8 1233.5,988.5 1233.9,989.2 1234.3,989.9 1234.7,990.5 1235.2,991.2 1235.2,991.3" stroke-dashoffset="7.56"/>
<path d="M1235.2,991.3 1235.6,991.9 1236.0,992.5 1236.5,993.2 1236.9,993.9 1237.4,994.6 1237.9,995.2 1238.4,995.9 1238.9,996.6 1239.5,997.3 1240.0,997.9 1240.6,998.6 1241.2,999.3 1241.8,1000.0 1242.4,1000.6 1243.1,1001.3 1243.7,1002.0 1243.8,1002.1" stroke-dashoffset="7.76"/>
<path d="M1243.8,1002.1 1244.4,1002.7 1245.0,1003.4 1245.7,1004.0 1246.4,1004.7 1247.0,1005.4 1247.7,1006.0 1248.3,1006.7 1249.0,1007.4 1249.7,1008.1 1250.3,1008.8 1251.0,1009.5 1251.6,1010.2 1252.3,1010.8 1253.0,1011.5 1253.6,1012.2 1254.3,1012.9" stroke-dashoffset="6.85"/>
<path d="M1254.3,1012.9 1254.3,1012.9 1255.0,1013.6 1255.7,1014.3 1256.3,1015.0 1257.0,1015.7 1257.7,1016.3 1258.4,1017.0 1259.1,1017.6 1259.8,1018.2 1260.5,1018.8 1261.2,1019.4 1261.9,1020.0 1262.6,1020.6 1263.2,1021.1 1263.9,1021.7 1264.6,1022.3 1265.3,1022.8" stroke-dashoffset="6.61"/>
<path d="M1265.3,1022.8 1265.3,1022.8 1266.0,1023.3 1266.7,1023.9 1267.5,1024.4 1268.2,1024.9 1269.0,1025.4 1269.7,1025.9 1270.5,1026.3 1271.3,1026.8 1272.1,1027.2 1273.0,1027.7 1273.8,1028.1 1274.7,1028.5 1275.6,1028.9 1276.5,1029.3 1277.4,1029.7 1278.3,1030.1" stroke-dashoffset="7.06"/>
<path d="M1278.3,1030.1 1278.4,1030.1 1279.3,1030.5 1280.2,1030.8 1281.2,1031.2 1282.1,1031.5 1283.0,1031.8 1283.9,1032.1 1284.8,1032.3 1285.7,1032.6 1286.6,1032.8 1287.4,1033.1 1288.3,1033.3 1289.1,1033.5 1290.0,1033.6 1290.8,1033.8 1291.7,1033.9 1292.4,1034.0" stroke-dashoffset="6.47"/>
<path d="M1292.4,1034.0 1292.5,1034.1 1293.3,1034.2 1294.2,1034.3 1295.0,1034.4 1295.9,1034.5 1296.7,1034.5 1297.6,1034.6 1298.4,1034.7 1299.3,1034.7 1300.2,1034.7 1301.1,1034.8 1302.0,1034.8 1302.9,1034.8 1303.8,1034.7 1304.7,1034.7 1305.6,1034.7 1306.5,1034.6 1306.5,1034.6" stroke-dashoffset="7.35"/>
<path d="M1306.5,1034.6 1307.4,1034.6 1308.3,1034.5 1309.2,1034.4 1310.1,1034.3 1311.0,1034.3 1311.9,1034.2 1312.8,1034.1 1313.7,1034.0 1314.6,1033.9 1315.4,1033.8 1316.3,1033.7 1317.2,1033.5 1318.0,1033.4 1318.9,1033.2 1319.7,1033.1 1320.5,1032.9 1320.6,1032.9" stroke-dashoffset="7.03"/>
<path d="M1320.6,1032.9 1321.4,1032.8 1322.2,1032.6 1323.1,1032.5 1323.9,1032.3 1324.8,1032.2 1325.7,1032.0 1326.5,1031.9 1327.4,1031.8 1328.3,1031.7 1329.2,1031.6 1330.1,1031.5 1331.0,1031.4 1331.9,1031.3 1332.8,1031.3 1333.7,1031.2 1334.6,1031.1 1334.6,1031.1" stroke-dashoffset="7.31"/>
<path d="M1334.6,1031.1 1335.5,1031.0 1336.4,1030.9 1337.3,1030.9 1338.2,1030.8 1339.1,1030.7 1340.0,1030.6 1340.9,1030.5 1341.8,1030.4 1342.7,1030.3 1343.6,1030.2 1344.5,1030.0 1345.3,1029.9 1346.2,1029.7 1347.1,1029.6 1348.0,1029.4 1348.8,1029.3" stroke-dashoffset="7.02"/>
<path d="M1348.8,1029.3 1348.8,1029.3 1349.7,1029.1 1350.6,1029.0 1351.5,1028.8 1352.4,1028.7 1353.2,1028.5 1354.1,1028.4 1355.0,1028.3 1355.9,1028.2 1356.8,1028.1 1357.7,1028.0 1358.6,1028.0 1359.5,1027.9 1360.4,1027.9 1361.3,1027.9 1362.2,1027.8 1363.1,1027.8" stroke-dashoffset="7.11"/>
<path d="M1363.1,1027.8 1363.1,1027.8 1364.0,1027.8 1364.9,1027.7 1365.8,1027.7 1366.7,1027.7 1367.6,1027.7 1368.5,1027.6 1369.4,1027.6 1370.3,1027.5 1371.2,1027.4 1372.1,1027.4 1372.9,1027.3 1373.8,1027.2 1374.7,1027.2 1375.5,1027.1 1376.4,1027.0 1377.2,1026.9" stroke-dashoffset="7.04"/>
<path d="M1377.2,1026.9 1377.2,1026.9 1378.1,1026.8 1378.9,1026.7 1379.8,1026.6 1380.6,1026.6 1381.5,1026.4 1382.3,1026.3 1383.2,1026.2 1384.0,1026.1 1384.8,1026.0 1385.6,1025.9 1386.5,1025.7 1387.3,1025.6 1388.0,1025.5 1388.8,1025.3 1389.6,1025.2 1390.4,1025.0 1390.5,1025.0" stroke-dashoffset="7.36"/>
<path d="M1390.5,1025.0 1391.2,1024.9 1392.0,1024.7 1392.8,1024.6 1393.6,1024.4 1394.4,1024.2 1395.3,1024.0 1396.1,1023.7 1397.0,1023.5 1397.9,1023.2 1398.8,1023.0 1399.7,1022.6 1400.6,1022.3 1401.6,1022.0 1402.5,1021.6 1403.5,1021.2 1404.5,1020.9 1404.5,1020.9" stroke-dashoffset="7.62"/>
<path d="M1404.5,1020.9 1405.4,1020.5 1406.4,1020.1 1407.3,1019.8 1408.3,1019.4 1409.2,1019.1 1410.2,1018.8 1411.1,1018.5 1412.0,1018.2 1412.9,1018.0 1413.8,1017.7 1414.6,1017.5 1415.5,1017.3 1416.4,1017.1 1417.2,1016.9 1418.0,1016.7 1418.8,1016.5" stroke-dashoffset="6.29"/>
<path d="M1418.8,1016.5 1418.9,1016.5 1419.7,1016.3 1420.6,1016.2 1421.4,1016.0 1422.3,1015.9 1423.1,1015.7 1424.0,1015.6 1424.8,1015.4 1425.7,1015.3 1426.6,1015.2 1427.5,1015.0 1428.4,1014.9 1429.3,1014.8 1430.1,1014.7 1431.0,1014.6 1432.0,1014.5 1432.9,1014.4 1432.9,1014.4" stroke-dashoffset="7.24"/>
<path d="M1432.9,1014.4 1433.8,1014.3 1434.7,1014.2 1435.6,1014.1 1436.5,1014.1 1437.4,1014.0 1438.3,1014.0 1439.2,1013.9 1440.1,1013.9 1441.0,1013.9 1441.9,1013.9 1442.8,1013.9 1443.7,1013.9 1444.6,1013.9 1445.5,1013.9 1446.4,1014.0 1447.3,1014.0" stroke-dashoffset="7.01"/>
<path d="M1447.3,1014.0 1447.3,1014.0 1448.2,1014.1 1449.1,1014.1 1450.0,1014.2 1450.9,1014.3 1451.8,1014.3 1452.7,1014.4 1453.6,1014.5 1454.5,1014.6 1455.4,1014.7 1456.3,1014.8 1457.2,1014.9 1458.0,1015.1 1458.9,1015.2 1459.8,1015.3 1460.7,1015.5 1461.5,1015.6" stroke-dashoffset="7.04"/>
<path d="M1461.5,1015.6 1461.6,1015.6 1462.4,1015.8 1463.3,1016.0 1464.2,1016.1 1465.0,1016.3 1465.9,1016.5 1466.8,1016.7 1467.6,1016.8 1468.5,1017.0 1469.4,1017.2 1470.2,1017.3 1471.0,1017.5 1471.9,1017.7 1472.7,1017.9 1473.5,1018.1 1474.4,1018.3 1475.2,1018.5 1475.3,1018.5" stroke-dashoffset="7.15"/>
<path d="M1475.3,1018.5 1476.0,1018.6 1476.8,1018.8 1477.7,1019.0 1478.5,1019.2 1479.4,1019.5 1480.2,1019.7 1481.1,1019.9 1482.0,1020.1 1482.9,1020.3 1483.8,1020.6 1484.7,1020.8 1485.7,1021.1 1486.6,1021.3 1487.6,1021.6 1488.5,1021.9 1489.5,1022.1 1489.5,1022.2" stroke-dashoffset="7.32"/>
<path d="M1489.5,1022.2 1490.4,1022.4 1491.4,1022.7 1492.4,1022.9 1493.3,1023.2 1494.2,1023.4 1495.2,1023.7 1496.1,1023.9 1497.0,1024.1 1497.9,1024.3 1498.8,1024.5 1499.7,1024.7 1500.5,1024.8 1501.4,1025.0 1502.2,1025.2 1503.1,1025.3 1503.9,1025.5" stroke-dashoffset="6.49"/>
<path d="M1503.9,1025.5 1503.9,1025.5 1504.8,1025.6 1505.6,1025.8 1506.5,1025.9 1507.3,1026.0 1508.2,1026.1 1509.1,1026.2 1509.9,1026.3 1510.8,1026.4 1511.7,1026.5 1512.6,1026.5 1513.5,1026.6 1514.4,1026.7 1515.3,1026.7 1516.3,1026.8 1517.2,1026.8 1518.0,1026.8" stroke-dashoffset="7.25"/>
<path d="M1518.0,1026.8 1518.1,1026.8 1519.0,1026.8 1519.9,1026.8 1520.8,1026.8 1521.7,1026.8 1522.6,1026.7 1523.5,1026.6 1524.4,1026.5 1525.2,1026.4 1526.0,1026.2 1526.9,1026.0 1527.7,1025.8 1528.5,1025.5 1529.4,1025.3 1530.2,1025.0 1531.0,1024.6 1531.4,1024.5" stroke-dashoffset="7.03"/>
<path d="M1531.4,1024.5 1531.8,1024.3 1532.6,1024.0 1533.4,1023.6 1534.1,1023.3 1534.8,1023.0 1535.5,1022.7 1536.1,1022.3 1536.7,1022.1 1537.3,1021.8 1537.8,1021.6 1538.2,1021.4 1538.6,1021.2 1539.0,1021.0 1539.3,1020.9 1539.6,1020.7 1539.8,1020.6 1540.0,1020.5 1540.1,1020.4" stroke-dashoffset="7.76"/>
<path d="M1540.1,1020.4 1540.3,1020.3 1540.5,1020.1 1540.8,1019.9 1541.0,1019.7 1541.3,1019.5 1541.7,1019.2 1542.1,1018.8 1542.5,1018.4 1543.0,1017.9 1543.5,1017.4 1544.1,1016.9 1544.7,1016.3 1545.3,1015.7 1545.9,1015.1 1546.6,1014.4 1547.3,1013.7 1547.6,1013.4" stroke-dashoffset="11.12"/>
<path d="M1547.6,1013.4 1547.9,1013.0 1548.6,1012.3 1549.3,1011.6 1549.9,1010.9 1550.5,1010.2 1551.2,1009.4 1551.7,1008.7 1552.3,1008.0 1552.8,1007.3 1553.4,1006.6 1553.9,1005.9 1554.4,1005.1 1554.8,1004.4 1555.3,1003.7 1555.8,1002.9 1556.2,1002.2 1556.3,1002.1" stroke-dashoffset="7.10"/>
<path d="M1556.3,1002.1 1556.7,1001.4 1557.1,1000.6 1557.6,999.9 1558.0,999.1 1558.4,998.3 1558.9,997.5 1559.3,996.7 1559.7,995.9 1560.1,995.1 1560.5,994.2 1560.9,993.4 1561.3,992.5 1561.7,991.7 1562.0,990.8 1562.4,989.9 1562.7,989.1" stroke-dashoffset="7.15"/>
<path d="M1562.7,989.1 1562.7,989.0 1563.1,988.1 1563.4,987.3 1563.8,986.4 1564.1,985.5 1564.5,984.6 1564.8,983.8 1565.2,982.9 1565.5,982.1 1565.8,981.3 1566.2,980.5 1566.5,979.7 1566.8,978.9 1567.2,978.1 1567.5,977.4 1567.8,976.6 1568.1,975.9 1568.2,975.8" stroke-dashoffset="6.76"/>
<path d="M1568.2,975.8 1568.5,975.1 1568.8,974.3 1569.1,973.5 1569.4,972.8 1569.7,972.0 1570.1,971.2 1570.4,970.3 1570.7,969.5 1571.0,968.6 1571.4,967.8 1571.7,966.9 1572.0,965.9 1572.3,965.0 1572.7,964.1 1573.0,963.2 1573.3,962.2" stroke-dashoffset="7.43"/>
<path d="M1573.3,962.2 1573.3,962.2 1573.7,961.3 1574.0,960.3 1574.3,959.4 1574.6,958.5 1574.9,957.6 1575.2,956.7 1575.5,955.8 1575.8,954.9 1576.1,954.1 1576.3,953.2 1576.6,952.4 1576.9,951.6 1577.1,950.8 1577.4,950.0 1577.6,949.2 1577.8,948.5" stroke-dashoffset="6.52"/>
<path d="M1577.8,948.5 1577.8,948.5 1578.1,947.7 1578.3,946.9 1578.5,946.1 1578.8,945.3 1579.0,944.6 1579.2,943.7 1579.5,942.9 1579.7,942.1 1579.9,941.3 1580.2,940.4 1580.4,939.5 1580.7,938.7 1580.9,937.8 1581.1,936.9 1581.4,936.0 1581.6,935.1 1581.6,935.1" stroke-dashoffset="7.56"/>
<path d="M1581.6,935.1 1581.8,934.2 1582.1,933.3 1582.3,932.4 1582.6,931.5 1582.8,930.7 1583.0,929.8 1583.3,928.9 1583.5,928.0 1583.7,927.1 1584.0,926.3 1584.2,925.6 1584.4,924.8 1584.6,924.1 1584.8,923.3 1585.0,922.6 1585.2,921.8 1585.5,921.0" stroke-dashoffset="6.95"/>
<path d="M1585.5,921.0 1585.5,921.0 1585.7,920.2 1585.9,919.3 1586.2,918.4 1586.4,917.4 1586.7,916.4 1587.0,915.2 1587.3,914.0 1587.6,912.6 1588.0,911.2 1588.4,909.6 1588.8,907.9 1589.2,906.1 1589.6,904.3 1590.0,902.4 1590.5,900.6 1590.5,900.5" stroke-dashoffset="7.00"/>
<path d="M1590.5,900.5 1590.9,898.7 1591.3,896.8 1591.7,895.0 1592.2,893.2 1592.6,891.5 1593.0,889.9 1593.3,888.5 1593.7,887.1 1594.0,885.9 1594.3,884.7 1594.6,883.6 1594.9,882.6 1595.2,881.7 1595.5,880.8 1595.7,880.0 1595.7,880.0" stroke-dashoffset="0.42"/>
<path d="M1595.7,880.0 1596.0,879.2 1596.2,878.4 1596.5,877.6 1596.8,876.9 1597.0,876.1 1597.3,875.4 1597.6,874.6 1598.0,873.8 1598.3,873.0 1598.7,872.2 1599.1,871.3 1599.5,870.5 1599.9,869.6 1600.3,868.8 1600.7,868.0 1601.2,867.2 1601.6,866.5" stroke-dashoffset="6.83"/>
<path d="M1601.6,866.5 1601.6,866.4 1602.1,865.6 1602.5,864.8 1603.0,864.0 1603.5,863.2 1603.9,862.4 1604.3,861.7 1604.8,860.9 1605.2,860.2 1605.6,859.5 1606.0,858.8 1606.4,858.1 1606.8,857.5 1607.2,856.9 1607.6,856.2 1607.9,855.6 1608.3,855.0" stroke-dashoffset="6.97"/>
<path d="M1608.3,855.0 1608.3,855.0 1608.7,854.4 1609.1,853.8 1609.5,853.2 1609.9,852.6 1610.3,852.0 1610.7,851.3 1611.2,850.7 1611.6,850.0 1612.1,849.3 1612.5,848.6 1613.0,847.9 1613.5,847.2 1614.0,846.5 1614.5,845.8 1615.0,845.1 1615.6,844.3 1615.7,844.2" stroke-dashoffset="8.23"/>
<path d="M1615.7,844.2 1616.1,843.6 1616.6,842.9 1617.2,842.1 1617.7,841.4 1618.2,840.7 1618.7,839.9 1619.3,839.2 1619.8,838.5 1620.3,837.8 1620.8,837.1 1621.4,836.3 1621.9,835.6 1622.4,834.9 1623.0,834.1 1623.5,833.4 1624.0,832.7" stroke-dashoffset="7.19"/>
<path d="M1624.0,832.7 1624.0,832.7 1624.6,831.9 1625.1,831.2 1625.6,830.5 1626.2,829.8 1626.7,829.1 1627.2,828.4 1627.8,827.7 1628.3,827.0 1628.8,826.3 1629.3,825.7 1629.9,825.0 1630.4,824.3 1630.9,823.7 1631.4,823.0 1631.9,822.4 1632.4,821.8" stroke-dashoffset="7.10"/>
<path d="M1632.4,821.8 1632.4,821.7 1633.0,821.1 1633.5,820.5 1634.0,819.8 1634.5,819.2 1635.1,818.6 1635.6,818.0 1636.1,817.3 1636.7,816.7 1637.3,816.1 1637.8,815.5 1638.4,814.9 1639.0,814.3 1639.5,813.7 1640.1,813.1 1640.7,812.5 1641.3,811.9 1641.4,811.8" stroke-dashoffset="7.60"/>
<path d="M1641.4,811.8 1641.8,811.3 1642.4,810.7 1643.0,810.1 1643.7,809.5 1644.3,808.9 1644.9,808.3 1645.5,807.6 1646.2,807.0 1646.9,806.4 1647.5,805.7 1648.2,805.0 1648.9,804.3 1649.6,803.6 1650.4,802.9 1651.1,802.2 1651.8,801.5 1651.8,801.5" stroke-dashoffset="7.46"/>
<path d="M1651.8,801.5 1652.6,800.8 1653.3,800.1 1654.0,799.5 1654.8,798.8 1655.5,798.1 1656.2,797.5 1657.0,796.9 1657.7,796.3 1658.4,795.7 1659.1,795.2 1659.8,794.7 1660.5,794.1 1661.3,793.6 1662.0,793.1 1662.7,792.7 1663.3,792.2" stroke-dashoffset="6.39"/>
<path d="M1663.3,792.2 1663.4,792.2 1664.1,791.7 1664.8,791.3 1665.5,790.8 1666.2,790.4 1667.0,789.9 1667.7,789.5 1668.4,789.0 1669.2,788.6 1670.0,788.2 1670.8,787.7 1671.6,787.3 1672.4,786.9 1673.2,786.4 1674.0,786.0 1674.8,785.6 1675.5,785.2" stroke-dashoffset="7.32"/>
<path d="M1675.5,785.2 1675.7,785.2 1676.5,784.8 1677.3,784.4 1678.1,784.0 1678.9,783.6 1679.7,783.2 1680.5,782.9 1681.3,782.5 1682.0,782.2 1682.7,781.9 1683.5,781.5 1684.3,781.2 1685.0,780.9 1685.8,780.6 1686.6,780.3 1687.2,780.0" stroke-dashoffset="7.09"/>
<path d="M1687.2,780.0 1687.3,780.0 1688.0,779.7 1688.8,779.4 1689.4,779.2 1690.1,778.9 1690.7,778.7 1691.2,778.5 1691.7,778.3 1692.1,778.1 1692.5,778.0" stroke-dashoffset="8.59"/>
</g>
<g fill="none" stroke="#008000" stroke-width="8" stroke-linecap="round" stroke-linejoin="round" stroke-dasharray="9.8 22.3">
<path d="M339.0,977.5 339.5,977.5 340.1,977.5 340.7,977.5 341.5,977.5 342.3,977.5 343.2,977.5 344.1,977.5 345.0,977.5 346.0,977.5 347.1,977.6 348.1,977.6 349.1,977.6 350.2,977.6 351.2,977.6 352.3,977.6 353.3,977.6 354.3,977.6 355.4,977.6 356.5,977.6 357.6,977.6 358.7,977.6 359.9,977.6 361.0,977.5 362.2,977.5 363.4,977.5 364.5,977.5 365.7,977.5 366.8,977.6 367.9,977.6 369.0,977.7 370.1,977.7 371.1,977.8 372.1,977.9 373.0,978.0 374.0,978.1 374.9,978.3 375.8,978.5 376.6,978.6 377.5,978.8 378.2,979.0" stroke-dashoffset="13.80"/>
<path d="M378.2,979.0 378.3,979.0 379.2,979.2 380.0,979.4 380.9,979.6 381.8,979.8 382.7,979.9 383.6,980.1 384.5,980.3 385.5,980.5 386.5,980.7 387.5,980.8 388.6,981.0 389.7,981.2 390.8,981.4 391.9,981.6 393.0,981.7 394.1,981.9 395.3,982.1 396.4,982.3 397.5,982.5 398.6,982.6 399.7,982.8 400.8,983.0 401.8,983.2 402.8,983.4 403.8,983.6 404.7,983.8 405.6,984.0 406.5,984.2 407.4,984.4 408.3,984.6 409.1,984.8 409.9,985.0" stroke-dashoffset="20.86"/>
<path d="M409.9,985.0 410.0,985.1 410.9,985.3 411.7,985.5 412.6,985.7 413.5,985.9 414.4,986.1 415.3,986.4 416.2,986.6 417.2,986.8 418.2,987.0 419.3,987.2 420.3,987.4 421.4,987.6 422.5,987.8 423.7,988.0 424.8,988.2 425.9,988.4 427.1,988.6 428.2,988.9 429.3,989.1 430.4,989.3 431.5,989.5 432.5,989.8 433.5,990.0 434.4,990.3 435.3,990.6 436.1,990.9 436.9,991.2 437.6,991.5 438.4,991.8 439.1,992.2 439.7,992.5 440.4,992.8 440.5,992.9" stroke-dashoffset="20.85"/>
<path d="M440.5,992.9 441.1,993.2 441.8,993.5 442.5,993.9 443.2,994.2 443.9,994.6 444.7,994.9 445.6,995.2 446.5,995.5 447.5,995.8 448.5,996.1 449.6,996.3 450.7,996.5 451.8,996.7 453.0,997.0 454.2,997.2 455.4,997.4 456.6,997.6 457.8,997.9 459.0,998.1 460.1,998.4 461.3,998.7 462.3,999.1 463.4,999.5 464.4,999.9 465.3,1000.4 466.3,1000.9 467.1,1001.5 468.0,1002.2 468.8,1002.8 469.6,1003.5 470.3,1004.2 470.6,1004.5" stroke-dashoffset="21.47"/>
<path d="M470.6,1004.5 471.1,1005.0 471.9,1005.7 472.6,1006.4 473.4,1007.1 474.2,1007.7 475.0,1008.4 475.8,1008.9 476.7,1009.4 477.6,1009.9 478.5,1010.3 479.4,1010.6 480.3,1010.9 481.2,1011.1 482.1,1011.3 483.0,1011.5 483.9,1011.6 484.8,1011.7 485.8,1011.8 486.8,1012.0 487.8,1012.1 488.9,1012.3 490.0,1012.5 491.2,1012.7 492.4,1013.0 493.7,1013.3 495.1,1013.7 496.6,1014.1 498.1,1014.6 499.7,1015.1 501.4,1015.6 503.2,1016.1 503.5,1016.2" stroke-dashoffset="19.78"/>
<path d="M503.5,1016.2 504.9,1016.6 506.7,1017.2 508.5,1017.8 510.3,1018.3 512.0,1018.9 513.8,1019.4 515.5,1020.0 517.1,1020.5 518.7,1021.0 520.2,1021.4 521.6,1021.8 523.0,1022.2 524.4,1022.6 525.8,1023.0 527.1,1023.4 528.4,1023.8 529.6,1024.2 530.9,1024.5 532.1,1024.9 533.3,1025.2 534.5,1025.6 535.1,1025.7" stroke-dashoffset="18.54"/>
<path d="M535.1,1025.7 535.7,1025.9 536.9,1026.2 538.1,1026.5 539.2,1026.8 540.4,1027.1 541.6,1027.4 542.7,1027.7 543.8,1027.9 545.0,1028.2 546.1,1028.4 547.2,1028.7 548.3,1028.9 549.3,1029.1 550.4,1029.4 551.4,1029.6 552.5,1029.8 553.5,1029.9 554.6,1030.1 555.6,1030.3 556.6,1030.5 557.6,1030.6 558.6,1030.7 559.6,1030.8 560.5,1030.9 561.5,1031.0 562.4,1031.1 563.3,1031.2 564.2,1031.2 565.1,1031.3 565.2,1031.3" stroke-dashoffset="22.52"/>
<path d="M565.2,1031.3 566.0,1031.3 566.9,1031.3 567.8,1031.4 568.7,1031.4 569.7,1031.5 570.6,1031.5 571.6,1031.6 572.6,1031.7 573.6,1031.8 574.7,1031.9 575.7,1032.0 576.8,1032.2 577.9,1032.3 579.0,1032.4 580.1,1032.6 581.3,1032.7 582.4,1032.8 583.5,1033.0 584.6,1033.1 585.7,1033.2 586.8,1033.3 587.8,1033.4 588.9,1033.5 589.9,1033.5 590.9,1033.5 591.9,1033.5 592.8,1033.5 593.7,1033.5 594.7,1033.4 595.6,1033.4 596.5,1033.3 597.4,1033.3 597.4,1033.3" stroke-dashoffset="20.82"/>
<path d="M597.4,1033.3 598.2,1033.2 599.1,1033.1 600.0,1033.1 601.0,1033.0 601.9,1033.0 602.8,1032.9 603.8,1032.9 604.8,1032.9 605.8,1032.9 606.9,1032.9 607.9,1033.0 609.0,1033.0 610.1,1033.1 611.2,1033.2 612.4,1033.3 613.5,1033.3 614.6,1033.4 615.7,1033.5 616.8,1033.5 617.9,1033.6 619.0,1033.6 620.1,1033.6 621.1,1033.6 622.1,1033.5 623.1,1033.4 624.0,1033.3 624.9,1033.2 625.8,1033.0 626.7,1032.8 627.6,1032.6 628.4,1032.4 629.3,1032.2 629.4,1032.2" stroke-dashoffset="20.85"/>
<path d="M629.4,1032.2 630.2,1032.0 631.0,1031.8 631.9,1031.6 632.8,1031.4 633.7,1031.2 634.6,1031.0 635.5,1030.8 636.5,1030.6 637.5,1030.4 638.5,1030.3 639.6,1030.1 640.7,1030.0 641.8,1029.9 642.9,1029.7 644.0,1029.6 645.1,1029.4 646.2,1029.3 647.4,1029.2 648.5,1029.0 649.6,1028.9 650.7,1028.8 651.7,1028.6 652.8,1028.5 653.8,1028.3 654.8,1028.1 655.8,1028.0 656.7,1027.8 657.6,1027.6 658.6,1027.4 659.5,1027.3 660.4,1027.1 661.2,1026.9 661.4,1026.9" stroke-dashoffset="20.97"/>
<path d="M661.4,1026.9 662.1,1026.7 663.0,1026.5 663.9,1026.3 664.9,1026.1 665.8,1026.0 666.7,1025.8 667.7,1025.6 668.7,1025.4 669.7,1025.2 670.8,1025.0 671.9,1024.8 673.0,1024.7 674.1,1024.5 675.2,1024.3 676.3,1024.1 677.5,1023.9 678.6,1023.7 679.7,1023.5 680.8,1023.4 681.9,1023.2 683.0,1023.0 684.0,1022.8 685.0,1022.7 686.0,1022.5 686.9,1022.3 687.8,1022.2 688.7,1022.0 689.5,1021.9 690.3,1021.7 691.1,1021.6 691.9,1021.5 692.6,1021.3" stroke-dashoffset="20.60"/>
<path d="M692.6,1021.3 692.7,1021.3 693.4,1021.2 694.2,1021.0 695.0,1020.9 695.8,1020.8 696.6,1020.6 697.5,1020.5 698.4,1020.3 699.3,1020.2 700.3,1020.1 701.3,1019.9 702.3,1019.8 703.4,1019.7 704.5,1019.6 705.6,1019.5 706.7,1019.4 707.9,1019.2 709.0,1019.1 710.1,1019.0 711.2,1018.8 712.3,1018.7 713.4,1018.5 714.5,1018.3 715.5,1018.1 716.5,1017.9 717.5,1017.6 718.4,1017.4 719.3,1017.1 720.2,1016.7 721.0,1016.4 721.9,1016.1 722.7,1015.7 723.3,1015.5" stroke-dashoffset="21.64"/>
<path d="M723.3,1015.5 723.6,1015.3 724.4,1015.0 725.2,1014.6 726.1,1014.2 726.9,1013.9 727.8,1013.5 728.7,1013.2 729.6,1012.9 730.5,1012.6 731.4,1012.3 732.4,1012.1 733.4,1011.8 734.4,1011.6 735.4,1011.3 736.4,1011.1 737.4,1010.9 738.4,1010.7 739.4,1010.5 740.5,1010.3 741.5,1010.0 742.5,1009.8 743.6,1009.6 744.6,1009.4 745.6,1009.1 746.6,1008.9 747.6,1008.6 748.6,1008.4 749.6,1008.1 750.6,1007.9 751.7,1007.6 752.7,1007.3 753.7,1007.0 754.4,1006.8" stroke-dashoffset="21.04"/>
<path d="M754.4,1006.8 754.7,1006.8 755.7,1006.5 756.7,1006.2 757.7,1005.9 758.7,1005.6 759.7,1005.4 760.7,1005.1 761.7,1004.9 762.7,1004.6 763.7,1004.4 764.7,1004.1 765.7,1003.9 766.6,1003.7 767.6,1003.5 768.6,1003.3 769.6,1003.0 770.5,1002.8 771.5,1002.6 772.5,1002.4 773.4,1002.2 774.4,1001.9 775.3,1001.7 776.3,1001.4 777.3,1001.2 778.2,1000.9 779.1,1000.6 780.1,1000.3 781.0,999.9 781.9,999.6 782.9,999.2 783.8,998.9 784.7,998.5 785.4,998.2" stroke-dashoffset="20.55"/>
<path d="M785.4,998.2 785.6,998.1 786.6,997.7 787.5,997.3 788.4,997.0 789.3,996.6 790.2,996.3 791.1,995.9 792.1,995.6 793.0,995.3 793.9,995.0 794.9,994.8 795.8,994.5 796.7,994.3 797.7,994.1 798.6,993.9 799.5,993.7 800.5,993.5 801.4,993.2 802.3,993.0 803.2,992.8 804.2,992.6 805.1,992.4 806.0,992.1 807.0,991.9 807.9,991.6 808.8,991.3 809.8,991.0 810.7,990.6 811.6,990.3 812.5,989.9 813.5,989.6 814.4,989.2 815.3,988.8" stroke-dashoffset="21.19"/>
<path d="M815.3,988.8 815.3,988.8 816.2,988.4 817.1,988.0 818.1,987.7 819.0,987.3 819.9,987.0 820.8,986.6 821.8,986.3 822.7,986.0 823.6,985.7 824.5,985.4 825.5,985.2 826.4,984.9 827.3,984.7 828.2,984.5 829.1,984.2 830.1,984.0 831.0,983.8 831.9,983.6 832.9,983.4 833.8,983.2 834.7,983.0 835.7,982.7 836.6,982.5 837.6,982.3 838.6,982.1 839.6,981.8 840.6,981.6 841.6,981.4 842.6,981.1 843.6,980.9 844.6,980.7 845.4,980.5" stroke-dashoffset="21.48"/>
<path d="M845.4,980.5 845.7,980.5 846.7,980.2 847.7,980.0 848.7,979.8 849.7,979.5 850.7,979.3 851.7,979.1 852.7,978.8 853.7,978.6 854.7,978.4 855.6,978.1 856.5,977.9 857.5,977.6 858.4,977.4 859.3,977.1 860.2,976.9 861.1,976.6 862.0,976.4 862.9,976.2 863.8,975.9 864.7,975.7 865.7,975.5 866.6,975.3 867.5,975.1 868.5,974.9 869.5,974.7 870.5,974.6 871.4,974.4 872.4,974.3 873.5,974.2 874.5,974.1 875.5,974.0 876.3,973.9" stroke-dashoffset="21.21"/>
<path d="M876.3,973.9 876.5,973.9 877.5,973.8 878.5,973.7 879.6,973.6 880.6,973.5 881.6,973.4 882.6,973.3 883.6,973.1 884.6,973.0 885.6,972.8 886.6,972.7 887.6,972.5 888.5,972.4 889.5,972.2 890.5,972.0 891.5,971.8 892.5,971.6 893.4,971.5 894.4,971.3 895.4,971.1 896.3,970.8 897.3,970.6 898.2,970.4 899.2,970.2 900.1,969.9 901.0,969.6 901.9,969.4 902.8,969.1 903.7,968.8 904.6,968.5 905.5,968.1 906.3,967.8 907.2,967.5 907.4,967.4" stroke-dashoffset="21.13"/>
<path d="M907.4,967.4 908.1,967.1 908.9,966.8 909.8,966.5 910.7,966.1 911.6,965.8 912.5,965.5 913.4,965.1 914.4,964.8 915.4,964.5 916.4,964.2 917.4,963.9 918.4,963.5 919.4,963.2 920.5,962.9 921.5,962.6 922.6,962.3 923.7,962.0 924.7,961.7 925.8,961.3 926.8,961.0 927.9,960.7 928.9,960.4 929.9,960.0 930.9,959.7 931.9,959.4 932.9,959.0 933.8,958.7 934.8,958.3 935.7,957.9 936.7,957.6 937.6,957.2 938.1,957.0" stroke-dashoffset="21.00"/>
<path d="M938.1,957.0 938.6,956.9 939.5,956.5 940.5,956.1 941.4,955.8 942.3,955.4 943.3,955.0 944.2,954.7 945.2,954.3 946.1,954.0 947.0,953.7 948.0,953.4 948.9,953.1 949.9,952.8 950.8,952.5 951.8,952.2 952.7,951.9 953.7,951.6 954.6,951.3 955.5,951.0 956.5,950.7 957.4,950.4 958.4,950.1 959.3,949.7 960.3,949.3 961.2,948.9 962.1,948.5 963.1,948.0 964.0,947.5 965.0,946.9 965.9,946.4 966.8,945.8 967.8,945.2 968.5,944.7" stroke-dashoffset="20.60"/>
<path d="M968.5,944.7 968.7,944.6 969.6,944.0 970.6,943.4 971.5,942.8 972.5,942.3 973.4,941.7 974.4,941.2 975.3,940.7 976.3,940.3 977.3,939.9 978.3,939.5 979.3,939.2 980.3,938.8 981.4,938.5 982.4,938.2 983.5,937.9 984.5,937.7 985.5,937.4 986.6,937.1 987.6,936.9 988.5,936.6 989.5,936.3 990.4,936.0 991.3,935.6 992.1,935.3 992.9,934.9 993.6,934.6 994.3,934.2 994.9,933.8 995.5,933.4 996.1,933.0 996.7,932.6 996.9,932.5" stroke-dashoffset="20.47"/>
<path d="M996.9,932.5 997.2,932.2 997.8,931.8 998.3,931.4 998.9,930.9 999.5,930.5 1000.1,930.1 1000.8,929.7 1001.5,929.2 1002.2,928.8 1003.0,928.4 1003.8,928.0 1004.7,927.6 1005.6,927.2 1006.5,926.8 1007.4,926.4 1008.4,926.0 1009.4,925.6 1010.3,925.2 1011.3,924.7 1012.2,924.3 1013.1,923.8 1014.1,923.3 1014.9,922.8 1015.8,922.2 1016.6,921.6 1017.4,920.9 1018.1,920.3 1018.9,919.5 1019.6,918.8 1020.3,918.0 1021.0,917.2 1021.7,916.3 1022.0,915.9" stroke-dashoffset="22.40"/>
<path d="M1022.0,915.9 1022.3,915.5 1023.0,914.6 1023.6,913.8 1024.3,912.9 1024.9,912.0 1025.6,911.2 1026.2,910.3 1026.9,909.5 1027.5,908.7 1028.1,907.9 1028.8,907.2 1029.4,906.4 1030.1,905.7 1030.7,905.0 1031.3,904.2 1032.0,903.5 1032.6,902.8 1033.2,902.0 1033.8,901.3 1034.4,900.5 1035.0,899.7 1035.6,898.9 1036.2,898.1 1036.8,897.2 1037.4,896.3 1038.0,895.3 1038.6,894.3 1039.1,893.3 1039.7,892.2 1040.3,891.0 1040.8,889.9 1041.3,888.9" stroke-dashoffset="21.08"/>
<path d="M1041.3,888.9 1041.4,888.7 1041.9,887.6 1042.5,886.4 1043.0,885.2 1043.5,884.1 1044.0,883.0 1044.6,881.9 1045.0,880.9 1045.5,879.9 1046.0,879.0 1046.5,878.1 1046.9,877.4 1047.3,876.6 1047.7,875.9 1048.1,875.3 1048.4,874.7 1048.8,874.1 1049.2,873.5 1049.5,872.9 1049.9,872.3 1050.2,871.6 1050.6,871.0 1051.0,870.3 1051.4,869.5 1051.8,868.8 1052.2,867.9 1052.6,867.0 1053.1,866.0 1053.6,865.0 1054.0,863.9 1054.5,862.8 1055.0,861.6 1055.5,860.4 1056.0,859.3 1056.1,859.2" stroke-dashoffset="19.68"/>
<path d="M1056.1,859.2 1056.5,858.1 1057.0,856.9 1057.5,855.8 1058.0,854.6 1058.4,853.5 1058.9,852.5 1059.3,851.5 1059.7,850.5 1060.1,849.6 1060.4,848.8 1060.8,848.0 1061.1,847.2 1061.4,846.5 1061.7,845.8 1062.0,845.1 1062.3,844.4 1062.5,843.7 1062.8,843.0 1063.1,842.3 1063.4,841.6 1063.7,840.8 1064.0,840.0 1064.3,839.1 1064.6,838.2 1064.9,837.2 1065.3,836.2 1065.6,835.2 1065.9,834.1 1066.2,833.0 1066.6,831.9 1066.9,830.7 1067.2,829.5 1067.5,828.6" stroke-dashoffset="21.03"/>
<path d="M1067.5,828.6 1067.6,828.4 1067.9,827.1 1068.3,825.9 1068.7,824.7 1069.0,823.4 1069.4,822.2 1069.8,820.9 1070.2,819.6 1070.6,818.3 1071.0,817.0 1071.5,815.6 1071.9,814.2 1072.4,812.8 1072.8,811.4 1073.3,810.0 1073.8,808.5 1074.2,807.1 1074.7,805.6 1075.2,804.2 1075.7,802.7 1076.1,801.3 1076.6,799.8 1077.0,798.4 1077.5,797.1" stroke-dashoffset="20.28"/>
<path d="M1077.5,797.1 1077.5,797.0 1077.9,795.6 1078.4,794.2 1078.8,792.9 1079.3,791.5 1079.7,790.2 1080.1,788.8 1080.6,787.5 1081.0,786.1 1081.4,784.8 1081.9,783.4 1082.3,782.0 1082.7,780.6 1083.2,779.3 1083.6,777.9 1084.0,776.4 1084.5,775.0 1085.0,773.6 1085.4,772.1 1085.8,770.7 1086.3,769.3 1086.7,767.8 1087.2,766.4 1087.3,766.1" stroke-dashoffset="20.70"/>
<path d="M1087.3,766.1 1087.6,764.9 1088.1,763.5 1088.6,762.0 1089.0,760.5 1089.5,758.9 1090.0,757.3 1090.5,755.7 1091.0,754.1 1091.5,752.4 1092.0,750.7 1092.5,748.9 1093.1,747.1 1093.6,745.2 1094.2,743.3 1094.8,741.3 1095.4,739.3 1095.9,737.3 1096.5,735.2 1096.6,734.8" stroke-dashoffset="20.85"/>
<path d="M1096.6,734.8 1097.1,733.2 1097.7,731.1 1098.3,729.0 1098.9,727.0 1099.5,725.0 1100.1,722.9 1100.7,721.0 1101.3,719.0 1101.9,717.1 1102.5,715.1 1103.1,713.2 1103.7,711.2 1104.3,709.3 1104.9,707.3 1105.5,705.4 1105.9,703.9" stroke-dashoffset="20.48"/>
<path d="M1105.9,703.9 1106.1,703.5 1106.7,701.6 1107.3,699.7 1107.9,697.8 1108.5,695.9 1109.0,694.1 1109.6,692.3 1110.2,690.5 1110.7,688.8 1111.2,687.1 1111.8,685.4 1112.3,683.6 1112.9,681.9 1113.4,680.2 1113.9,678.5 1114.5,676.9 1115.0,675.2 1115.4,673.8" stroke-dashoffset="21.25"/>
<path d="M1115.4,673.8 1115.5,673.6 1116.0,672.1 1116.5,670.6 1116.9,669.1 1117.4,667.7 1117.8,666.4 1118.2,665.2 1118.6,664.0 1118.9,662.9 1119.3,662.0 1119.5,661.1 1119.8,660.3 1120.0,659.6 1120.2,659.0 1120.4,658.4 1120.6,657.8 1120.8,657.3 1121.0,656.7 1121.2,656.1 1121.4,655.6 1121.6,654.9 1121.9,654.2 1122.2,653.5 1122.5,652.6 1122.9,651.7 1123.3,650.7 1123.7,649.6 1124.2,648.6 1124.6,647.4 1125.1,646.3 1125.6,645.1 1126.1,644.1" stroke-dashoffset="21.16"/>
<path d="M1126.1,644.1 1126.1,644.0 1126.6,642.8 1127.1,641.6 1127.6,640.5 1128.1,639.4 1128.6,638.3 1129.1,637.2 1129.5,636.2 1129.9,635.3 1130.3,634.4 1130.6,633.6 1130.9,632.8 1131.2,632.1 1131.5,631.4 1131.8,630.7 1132.0,630.1 1132.3,629.4 1132.6,628.8 1132.8,628.1 1133.1,627.5 1133.4,626.8 1133.7,626.1 1134.1,625.4 1134.5,624.6 1134.9,623.8 1135.3,622.9 1135.8,622.1 1136.3,621.1 1136.8,620.2 1137.3,619.2 1137.8,618.2 1138.4,617.2 1138.9,616.1 1139.3,615.4" stroke-dashoffset="21.22"/>
<path d="M1139.3,615.4 1139.5,615.1 1140.1,614.1 1140.7,613.2 1141.3,612.2 1142.0,611.3 1142.6,610.5 1143.3,609.7 1144.0,608.9 1144.7,608.2 1145.4,607.4 1146.2,606.6 1147.0,605.9 1147.8,605.1 1148.6,604.4 1149.4,603.7 1150.3,603.0 1151.1,602.4 1152.0,601.9 1152.9,601.4 1153.7,601.0 1154.6,600.8 1155.5,600.6 1156.3,600.6 1157.2,600.7 1158.1,601.0 1159.0,601.4 1159.9,602.0 1160.8,602.7 1161.7,603.5 1162.6,604.4 1163.6,605.4 1164.5,606.4 1164.6,606.5" stroke-dashoffset="21.19"/>
<path d="M1164.6,606.5 1165.4,607.5 1166.3,608.6 1167.2,609.7 1168.1,610.8 1168.9,611.9 1169.7,612.9 1170.5,613.8 1171.2,614.7 1171.9,615.5 1172.5,616.3 1173.1,617.1 1173.7,617.8 1174.3,618.6 1174.8,619.3 1175.4,620.0 1175.9,620.7 1176.3,621.5 1176.8,622.2 1177.3,623.0 1177.7,623.7 1178.1,624.5 1178.6,625.4 1179.0,626.2 1179.4,627.1 1179.8,628.0 1180.2,629.0 1180.5,630.0 1180.8,631.0 1181.1,632.1 1181.4,633.1 1181.7,634.2 1182.0,635.3 1182.0,635.4" stroke-dashoffset="19.06"/>
<path d="M1182.0,635.4 1182.2,636.4 1182.5,637.5 1182.8,638.5 1183.1,639.6 1183.4,640.7 1183.7,641.7 1184.0,642.7 1184.4,643.6 1184.8,644.5 1185.2,645.3 1185.6,646.1 1186.1,646.9 1186.6,647.6 1187.0,648.3 1187.5,649.0 1188.0,649.7 1188.5,650.4 1189.0,651.1 1189.5,651.9 1189.9,652.8 1190.4,653.7 1190.9,654.6 1191.4,655.7 1191.8,656.8 1192.2,658.0 1192.7,659.3 1193.1,660.6 1193.5,662.0 1193.9,663.5 1194.2,664.9 1194.4,665.5" stroke-dashoffset="20.85"/>
<path d="M1194.4,665.5 1194.6,666.5 1195.0,668.0 1195.4,669.6 1195.8,671.3 1196.2,673.0 1196.7,674.6 1197.1,676.4 1197.5,678.1 1198.0,679.8 1198.5,681.6 1199.0,683.4 1199.5,685.2 1200.1,687.1 1200.7,689.0 1201.2,691.0 1201.8,693.0 1202.4,695.0 1203.0,697.0 1203.2,697.5" stroke-dashoffset="20.33"/>
<path d="M1203.2,697.5 1203.6,699.1 1204.2,701.1 1204.9,703.2 1205.5,705.2 1206.1,707.3 1206.6,709.3 1207.2,711.3 1207.8,713.3 1208.4,715.3 1208.9,717.3 1209.5,719.2 1210.0,721.2 1210.6,723.2 1211.1,725.2 1211.7,727.1 1212.2,729.1" stroke-dashoffset="20.50"/>
<path d="M1212.2,729.1 1212.2,729.1 1212.8,731.1 1213.3,733.0 1213.9,735.0 1214.4,737.0 1214.9,739.0 1215.5,740.9 1216.0,742.9 1216.5,744.9 1217.0,746.9 1217.5,748.9 1218.0,750.8 1218.5,752.8 1219.0,754.8 1219.5,756.8 1220.0,758.8 1220.5,760.7" stroke-dashoffset="20.61"/>
<path d="M1220.5,760.7 1220.5,760.8 1220.9,762.7 1221.4,764.7 1221.9,766.7 1222.4,768.7 1222.9,770.7 1223.4,772.6 1223.9,774.6 1224.4,776.6 1224.9,778.6 1225.4,780.6 1226.0,782.5 1226.5,784.5 1227.0,786.5 1227.5,788.5 1228.1,790.5 1228.6,792.4" stroke-dashoffset="20.67"/>
<path d="M1228.6,792.4 1228.6,792.5 1229.1,794.4 1229.7,796.4 1230.2,798.4 1230.8,800.4 1231.3,802.3 1231.9,804.3 1232.4,806.2 1233.0,808.2 1233.6,810.1 1234.2,812.1 1234.8,814.0 1235.4,815.9 1236.0,817.9 1236.6,819.8 1237.2,821.7 1237.8,823.6 1237.8,823.7" stroke-dashoffset="20.62"/>
<path d="M1237.8,823.7 1238.4,825.5 1239.1,827.4 1239.7,829.3 1240.3,831.2 1240.9,833.2 1241.5,835.1 1242.1,837.0 1242.7,839.0 1243.3,841.0 1243.9,842.9 1244.4,844.9 1245.0,846.9 1245.6,848.9 1246.1,850.9 1246.7,852.9 1247.3,854.9 1247.3,855.0" stroke-dashoffset="20.76"/>
<path d="M1247.3,855.0 1247.8,856.9 1248.4,858.9 1249.0,860.9 1249.5,862.9 1250.1,864.9 1250.7,866.9 1251.3,868.9 1251.9,870.8 1252.5,872.7 1253.1,874.7 1253.7,876.6 1254.3,878.5 1255.0,880.4 1255.6,882.3 1256.2,884.2 1256.8,886.1" stroke-dashoffset="20.50"/>
<path d="M1256.8,886.1 1256.8,886.1 1257.5,888.0 1258.1,889.9 1258.7,891.8 1259.4,893.6 1260.0,895.5 1260.7,897.3 1261.3,899.2 1262.0,901.0 1262.7,902.8 1263.3,904.7 1264.0,906.5 1264.7,908.3 1265.4,910.1 1266.1,912.0 1266.8,913.8 1267.5,915.6 1267.7,916.1" stroke-dashoffset="21.06"/>
<path d="M1267.7,916.1 1268.2,917.4 1268.9,919.1 1269.6,920.8 1270.3,922.5 1271.0,924.2 1271.7,925.9 1272.3,927.4 1273.0,929.0 1273.7,930.5 1274.3,932.0 1274.9,933.5 1275.6,934.9 1276.2,936.3 1276.8,937.7 1277.4,939.1 1278.1,940.4 1278.7,941.7 1279.3,943.0 1279.9,944.2 1280.3,945.0" stroke-dashoffset="20.96"/>
<path d="M1280.3,945.0 1280.5,945.4 1281.1,946.6 1281.8,947.8 1282.4,948.9 1283.0,950.0 1283.6,951.1 1284.2,952.1 1284.8,953.0 1285.4,953.9 1286.0,954.8 1286.6,955.6 1287.3,956.5 1287.9,957.3 1288.5,958.0 1289.1,958.8 1289.7,959.6 1290.3,960.3 1290.9,961.1 1291.6,961.9 1292.2,962.7 1292.9,963.5 1293.6,964.3 1294.3,965.2 1295.0,966.0 1295.7,966.8 1296.4,967.7 1297.2,968.5 1297.9,969.4 1298.5,970.1" stroke-dashoffset="21.49"/>
<path d="M1298.5,970.1 1298.6,970.2 1299.4,971.0 1300.1,971.8 1300.9,972.6 1301.6,973.4 1302.3,974.2 1303.0,975.0 1303.7,975.7 1304.4,976.4 1305.1,977.1 1305.7,977.7 1306.3,978.4 1306.9,979.0 1307.5,979.6 1308.1,980.2 1308.7,980.8 1309.3,981.3 1309.9,981.9 1310.5,982.4 1311.1,983.0 1311.7,983.5 1312.4,984.1 1313.0,984.7 1313.8,985.2 1314.5,985.8 1315.3,986.4 1316.1,987.0 1316.9,987.6 1317.8,988.2 1318.7,988.8 1319.6,989.4 1320.5,990.0 1321.5,990.6 1321.8,990.8" stroke-dashoffset="21.44"/>
<path d="M1321.8,990.8 1322.4,991.2 1323.3,991.8 1324.3,992.4 1325.2,992.9 1326.1,993.5 1327.0,994.0 1327.9,994.6 1328.8,995.1 1329.7,995.6 1330.5,996.1 1331.3,996.6 1332.2,997.1 1333.0,997.6 1333.8,998.0 1334.6,998.5 1335.4,998.9 1336.3,999.4 1337.1,999.8 1337.9,1000.2 1338.7,1000.6 1339.4,1001.1 1340.2,1001.5 1341.0,1001.9 1341.8,1002.3 1342.6,1002.7 1343.3,1003.1 1344.0,1003.5 1344.7,1003.8 1345.4,1004.2 1346.1,1004.5 1346.8,1004.9 1347.5,1005.2 1348.2,1005.6 1348.4,1005.7" stroke-dashoffset="21.27"/>
<path d="M1348.4,1005.7 1348.9,1005.9 1349.7,1006.3 1350.4,1006.6 1351.2,1007.0 1352.0,1007.4 1352.8,1007.7 1353.7,1008.1 1354.6,1008.5 1355.6,1008.9 1356.5,1009.3 1357.5,1009.7 1358.6,1010.2 1359.6,1010.6 1360.7,1011.1 1361.8,1011.5 1362.8,1011.9 1363.9,1012.3 1365.0,1012.8 1366.1,1013.2 1367.2,1013.6 1368.2,1013.9 1369.3,1014.3 1370.3,1014.6 1371.3,1014.9 1372.3,1015.2 1373.3,1015.4 1374.3,1015.7 1375.3,1015.9 1376.3,1016.1 1377.3,1016.3 1377.7,1016.4" stroke-dashoffset="22.24"/>
<path d="M1377.7,1016.4 1378.3,1016.5 1379.3,1016.7 1380.3,1016.9 1381.2,1017.1 1382.2,1017.3 1383.2,1017.5 1384.2,1017.7 1385.1,1017.9 1386.1,1018.2 1387.1,1018.5 1388.0,1018.8 1389.0,1019.1 1389.9,1019.4 1390.9,1019.7 1391.8,1020.0 1392.7,1020.4 1393.7,1020.7 1394.6,1021.0 1395.6,1021.4 1396.5,1021.7 1397.4,1022.0 1398.4,1022.3 1399.3,1022.6 1400.3,1022.9 1401.2,1023.2 1402.1,1023.5 1403.1,1023.7 1404.0,1024.0 1405.0,1024.2 1405.9,1024.5 1406.9,1024.7 1407.8,1024.9 1408.8,1025.1 1408.8,1025.1" stroke-dashoffset="20.44"/>
<path d="M1408.8,1025.1 1409.7,1025.3 1410.7,1025.6 1411.6,1025.8 1412.6,1026.0 1413.5,1026.2 1414.5,1026.4 1415.4,1026.6 1416.4,1026.8 1417.4,1027.0 1418.4,1027.2 1419.3,1027.4 1420.3,1027.6 1421.3,1027.8 1422.3,1028.0 1423.3,1028.2 1424.3,1028.4 1425.3,1028.6 1426.3,1028.7 1427.3,1028.9 1428.3,1029.1 1429.3,1029.2 1430.3,1029.4 1431.2,1029.6 1432.2,1029.7 1433.2,1029.8 1434.1,1030.0 1435.1,1030.1 1436.0,1030.2 1436.9,1030.4 1437.8,1030.5 1438.8,1030.6 1439.7,1030.7 1439.9,1030.7" stroke-dashoffset="21.21"/>
<path d="M1439.9,1030.7 1440.6,1030.8 1441.6,1030.9 1442.5,1031.0 1443.4,1031.1 1444.4,1031.1 1445.3,1031.2 1446.3,1031.3 1447.3,1031.3 1448.3,1031.3 1449.3,1031.4 1450.3,1031.4 1451.4,1031.4 1452.4,1031.4 1453.5,1031.4 1454.5,1031.4 1455.6,1031.4 1456.7,1031.4 1457.7,1031.4 1458.8,1031.3 1459.8,1031.2 1460.9,1031.2 1461.9,1031.1 1462.9,1030.9 1463.9,1030.8 1464.9,1030.6 1465.9,1030.4 1466.8,1030.2 1467.8,1030.0 1468.8,1029.7 1469.7,1029.4 1470.7,1029.2 1471.4,1028.9" stroke-dashoffset="21.24"/>
<path d="M1471.4,1028.9 1471.6,1028.9 1472.5,1028.5 1473.5,1028.2 1474.4,1027.9 1475.3,1027.6 1476.3,1027.3 1477.2,1027.0 1478.2,1026.7 1479.1,1026.4 1480.0,1026.1 1481.0,1025.9 1481.9,1025.6 1482.9,1025.4 1483.8,1025.2 1484.7,1024.9 1485.7,1024.7 1486.6,1024.4 1487.5,1024.2 1488.5,1023.9 1489.4,1023.6 1490.4,1023.3 1491.3,1023.0 1492.2,1022.6 1493.2,1022.2 1494.1,1021.8 1495.0,1021.3 1496.0,1020.8 1497.0,1020.2 1497.9,1019.6 1498.9,1019.0 1499.9,1018.4 1500.8,1017.7 1501.3,1017.4" stroke-dashoffset="20.91"/>
<path d="M1501.3,1017.4 1501.8,1017.0 1502.7,1016.4 1503.7,1015.7 1504.6,1015.0 1505.6,1014.4 1506.5,1013.7 1507.4,1013.1 1508.2,1012.5 1509.1,1012.0 1509.9,1011.5 1510.8,1011.0 1511.6,1010.6 1512.4,1010.2 1513.1,1009.7 1513.9,1009.3 1514.7,1009.0 1515.4,1008.6 1516.1,1008.2 1516.9,1007.8 1517.6,1007.4 1518.3,1007.0 1519.0,1006.6 1519.8,1006.1 1520.5,1005.6 1521.2,1005.1 1521.9,1004.6 1522.5,1004.0 1523.2,1003.5 1523.8,1002.9 1524.3,1002.4 1524.9,1001.8 1525.5,1001.2 1526.1,1000.6 1526.7,1000.0 1527.3,999.4 1528.0,998.7 1528.7,998.0 1529.0,997.7" stroke-dashoffset="20.82"/>
<path d="M1529.0,997.7 1529.4,997.3 1530.2,996.5 1531.1,995.7 1532.1,994.8 1533.2,993.9 1534.4,992.9 1535.6,991.9 1537.0,990.8 1538.4,989.7 1539.9,988.5 1541.4,987.4 1542.9,986.2 1544.4,985.0 1545.9,983.8 1547.4,982.6 1548.7,981.4 1550.1,980.2 1551.3,979.1 1552.4,978.0 1553.4,976.9 1554.3,975.9 1555.1,974.8 1555.8,973.8 1556.4,972.8 1556.4,972.7" stroke-dashoffset="18.97"/>
<path d="M1556.4,972.7 1556.9,971.8 1557.4,970.8 1557.9,969.8 1558.3,968.8 1558.7,967.8 1559.1,966.9 1559.5,966.0 1559.9,965.0 1560.3,964.2 1560.7,963.3 1561.2,962.4 1561.7,961.6 1562.2,960.8 1562.8,960.1 1563.4,959.4 1563.9,958.7 1564.5,958.1 1565.1,957.5 1565.7,956.9 1566.3,956.3 1566.9,955.7 1567.4,955.1 1568.0,954.4 1568.5,953.8 1569.1,953.1 1569.6,952.4 1570.0,951.6 1570.5,950.8 1570.9,949.9 1571.3,949.0 1571.7,948.0 1572.0,947.0 1572.3,946.0 1572.6,944.9 1572.9,943.8 1573.1,942.7 1573.3,942.2" stroke-dashoffset="17.76"/>
<path d="M1573.3,942.2 1573.4,941.6 1573.7,940.5 1574.0,939.4 1574.3,938.4 1574.6,937.3 1575.0,936.3 1575.4,935.3 1575.8,934.4 1576.3,933.5 1576.8,932.7 1577.3,931.9 1577.9,931.1 1578.5,930.3 1579.1,929.6 1579.7,928.8 1580.3,928.1 1580.9,927.4 1581.5,926.6 1582.2,925.9 1582.7,925.1 1583.3,924.3 1583.8,923.4 1584.3,922.5 1584.8,921.6 1585.2,920.6 1585.6,919.6 1586.0,918.5 1586.3,917.3 1586.6,916.2 1586.9,915.0 1587.2,913.8 1587.3,913.3" stroke-dashoffset="20.94"/>
<path d="M1587.3,913.3 1587.5,912.6 1587.8,911.4 1588.1,910.2 1588.3,909.0 1588.6,907.8 1588.9,906.7 1589.2,905.7 1589.6,904.7 1589.9,903.7 1590.3,902.8 1590.6,902.0 1591.0,901.2 1591.4,900.5 1591.8,899.8 1592.2,899.2 1592.6,898.6 1593.0,898.0 1593.4,897.3 1593.8,896.7 1594.3,896.1 1594.7,895.4 1595.1,894.7 1595.5,893.9 1595.9,893.1 1596.3,892.2 1596.7,891.2 1597.1,890.2 1597.5,889.1 1597.9,888.0 1598.3,886.8 1598.6,885.6 1599.0,884.3 1599.3,883.5" stroke-dashoffset="20.47"/>
<path d="M1599.3,883.5 1599.4,883.1 1599.8,881.9 1600.2,880.6 1600.6,879.4 1601.0,878.3 1601.4,877.2 1601.8,876.2 1602.3,875.2 1602.7,874.3 1603.1,873.5 1603.6,872.8 1604.0,872.1 1604.5,871.6 1604.9,871.0 1605.4,870.5 1605.8,870.1 1606.3,869.6 1606.8,869.2 1607.3,868.7 1607.8,868.3 1608.3,867.8 1608.8,867.3 1609.3,866.7 1609.8,866.1 1610.4,865.4 1611.0,864.7 1611.6,863.9 1612.2,863.0 1612.8,862.2 1613.5,861.3 1614.2,860.3 1614.8,859.4 1615.5,858.4 1615.7,858.2" stroke-dashoffset="21.19"/>
<path d="M1615.7,858.2 1616.2,857.5 1616.8,856.5 1617.5,855.6 1618.2,854.7 1618.8,853.8 1619.4,852.9 1620.0,852.1 1620.6,851.3 1621.1,850.6 1621.6,849.9 1622.1,849.2 1622.6,848.6 1623.0,848.0 1623.5,847.4 1623.9,846.8 1624.3,846.2 1624.7,845.6 1625.2,845.1 1625.6,844.5 1626.1,843.8 1626.6,843.2 1627.1,842.5 1627.7,841.8 1628.3,841.0 1629.0,840.2 1629.7,839.3 1630.4,838.4 1631.2,837.4 1632.1,836.4 1632.9,835.4 1633.8,834.3 1634.5,833.5" stroke-dashoffset="22.16"/>
<path d="M1634.5,833.5 1634.7,833.3 1635.5,832.2 1636.4,831.2 1637.2,830.2 1638.1,829.2 1638.9,828.3 1639.6,827.3 1640.3,826.5 1641.0,825.7 1641.6,825.0 1642.2,824.3 1642.7,823.7 1643.2,823.2 1643.6,822.6 1644.0,822.1 1644.4,821.7 1644.8,821.2 1645.2,820.7 1645.7,820.3 1646.1,819.8 1646.5,819.2 1647.0,818.7 1647.5,818.1 1648.1,817.4 1648.7,816.7 1649.4,815.9 1650.1,815.0 1650.8,814.1 1651.6,813.2 1652.5,812.2 1653.3,811.1 1654.2,810.1 1655.0,809.1 1655.2,808.8" stroke-dashoffset="20.86"/>
<path d="M1655.2,808.8 1655.9,808.0 1656.8,807.0 1657.6,805.9 1658.4,804.9 1659.3,804.0 1660.0,803.1 1660.8,802.2 1661.5,801.4 1662.2,800.7 1662.8,800.0 1663.4,799.4 1664.0,798.8 1664.5,798.2 1665.0,797.7 1665.6,797.2 1666.1,796.7 1666.6,796.2 1667.1,795.7 1667.6,795.2 1668.2,794.7 1668.7,794.2 1669.3,793.6 1669.9,793.0 1670.5,792.4 1671.2,791.7 1671.8,791.1 1672.5,790.4 1673.2,789.6 1673.9,788.9 1674.6,788.2 1675.4,787.4 1676.1,786.6 1676.5,786.2" stroke-dashoffset="20.90"/>
<path d="M1676.5,786.2 1676.8,785.9 1677.6,785.1 1678.3,784.4 1679.1,783.7 1679.8,782.9 1680.5,782.2 1681.3,781.6 1682.0,780.9 1682.7,780.3 1683.5,779.6 1684.3,778.9 1685.1,778.3 1686.0,777.6 1686.8,777.0 1687.7,776.3 1688.5,775.7 1689.3,775.1 1690.0,774.6 1690.8,774.0 1691.4,773.5 1692.1,773.1 1692.6,772.7 1693.1,772.3 1693.5,772.0" stroke-dashoffset="22.04"/>
</g>
<path d="M1535.2,992.2 L1550.3,979.5" stroke="#008000" stroke-width="8" stroke-linecap="round" fill="none"/>
<g fill="none" stroke="#990099" stroke-width="8" stroke-linecap="round" stroke-linejoin="round" stroke-dasharray="24.5 39.5">
<path d="M494.0,1015.0 496.0,1015.4 498.0,1015.8 500.0,1016.2 502.0,1016.5 504.0,1016.9 506.0,1017.3 508.0,1017.7 510.0,1018.1 512.0,1018.5 514.0,1018.8 516.0,1019.2 518.0,1019.6 520.0,1020.0 522.0,1019.6 524.0,1019.2 526.0,1018.9 528.0,1018.5 530.0,1018.1 532.0,1017.8 534.0,1017.4 536.0,1017.0 537.3,1016.7" stroke-dashoffset="63.86"/>
<path d="M537.3,1016.7 538.0,1016.6 540.0,1016.2 542.0,1015.9 544.0,1015.5 546.0,1015.1 548.0,1014.8 550.0,1014.4 552.0,1014.0 554.1,1013.9 556.1,1013.9 558.2,1013.8 560.2,1013.8 562.3,1013.7 564.4,1013.6 566.4,1013.6 568.5,1013.5 570.6,1013.4 572.6,1013.4 574.7,1013.3 576.8,1013.2 578.8,1013.2 580.9,1013.1 582.9,1013.1 585.0,1013.0 587.1,1012.8 589.1,1012.5 591.2,1012.2 593.2,1012.0 595.3,1011.8 597.4,1011.5 599.4,1011.2 601.5,1011.0" stroke-dashoffset="44.53"/>
<path d="M601.5,1011.0 601.5,1011.0 603.6,1010.8 605.6,1010.5 607.7,1010.2 609.8,1010.0 611.8,1009.8 613.9,1009.5 615.9,1009.2 618.0,1009.0 620.0,1008.9 622.0,1008.7 624.0,1008.5 626.0,1008.4 628.0,1008.2 630.0,1008.1 632.0,1008.0 634.0,1007.8 636.0,1007.6 638.0,1007.5 640.0,1007.4 642.0,1007.2 644.0,1007.1 646.0,1006.9 648.0,1006.8 650.0,1006.6 652.1,1006.9 654.1,1007.2 656.2,1007.6 658.2,1007.9 660.3,1008.2 662.4,1008.5 664.4,1008.8 665.9,1009.1" stroke-dashoffset="43.46"/>
<path d="M665.9,1009.1 666.5,1009.2 668.6,1009.5 670.6,1009.8 672.7,1010.1 674.8,1010.4 676.8,1010.7 678.9,1011.1 680.9,1011.4 683.0,1011.7 685.0,1012.1 687.0,1012.5 689.0,1013.0 691.0,1013.4 693.0,1013.8 695.0,1014.2 697.0,1014.6 699.0,1015.1 701.0,1015.5 703.0,1015.9 705.0,1016.3 707.0,1016.7 709.0,1017.2 711.0,1017.6 713.0,1018.0 715.0,1018.1 717.0,1018.2 719.0,1018.3 721.0,1018.4 723.0,1018.4 725.0,1018.5 727.0,1018.6 728.9,1018.7" stroke-dashoffset="44.16"/>
<path d="M728.9,1018.7 729.0,1018.7 731.0,1018.8 733.0,1018.9 735.0,1019.0 737.0,1019.0 739.0,1019.1 741.0,1019.2 743.0,1019.3 745.0,1019.4 747.0,1019.3 749.0,1019.2 751.0,1019.2 753.0,1019.1 755.0,1019.0 757.0,1019.0 759.0,1018.9 761.0,1018.8 763.0,1018.7 765.0,1018.6 767.0,1018.6 769.0,1018.5 771.0,1018.4 773.0,1018.4 775.0,1018.3 777.0,1018.2 779.0,1017.8 780.9,1017.4 782.9,1017.0 784.9,1016.5 786.9,1016.1 788.8,1015.7 790.8,1015.3 791.1,1015.3" stroke-dashoffset="44.52"/>
<path d="M791.1,1015.3 792.8,1014.9 794.8,1014.5 796.7,1014.1 798.7,1013.7 800.7,1013.2 802.7,1012.8 804.6,1012.4 806.6,1012.0 808.6,1011.4 810.7,1010.8 812.7,1010.1 814.7,1009.5 816.7,1008.9 818.8,1008.3 820.8,1007.6 822.8,1007.0 824.9,1006.4 826.9,1005.8 828.9,1005.2 830.9,1004.5 833.0,1003.9 835.0,1003.3 836.9,1002.4 838.8,1001.4 840.8,1000.5 842.7,999.5 844.6,998.6 846.2,997.8" stroke-dashoffset="45.47"/>
<path d="M846.2,997.8 846.5,997.6 848.5,996.7 850.4,995.7 852.3,994.8 854.2,993.8 856.2,992.9 858.1,991.9 860.0,991.0 861.4,989.4 862.7,987.7 864.1,986.1 865.5,984.5 866.8,982.8 868.2,981.2 869.5,979.5 870.9,977.9 872.3,976.3 873.6,974.6 875.0,973.0 876.2,971.3 877.3,969.6 878.5,968.0 879.7,966.3 880.9,964.6 882.0,962.9 883.2,961.2 883.5,960.8" stroke-dashoffset="49.02"/>
<path d="M883.5,960.8 884.4,959.6 885.5,957.9 886.7,956.2 887.9,954.5 889.1,952.9 890.2,951.2 891.4,949.5 892.3,947.6 893.2,945.7 894.0,943.8 894.9,941.9 895.8,940.0 896.7,938.0 897.6,936.1 898.5,934.2 899.4,932.3 900.2,930.4 901.1,928.5 902.0,926.6 903.1,924.9 904.2,923.2 905.3,921.4 906.4,919.7 907.5,918.0 908.6,916.3 909.6,914.6" stroke-dashoffset="49.77"/>
<path d="M909.6,914.6 909.6,914.5 910.7,912.8 911.8,911.1 912.9,909.4 914.0,907.7 915.1,905.9 916.2,904.2 917.3,902.5 918.2,900.6 919.2,898.8 920.1,896.9 921.0,895.1 922.0,893.2 922.9,891.4 923.8,889.5 924.8,887.6 925.7,885.8 926.6,883.9 927.6,882.1 928.5,880.2 929.5,878.4 930.4,876.5 931.4,874.6 932.4,872.8 933.3,871.0 934.3,869.1 935.1,867.5" stroke-dashoffset="49.43"/>
<path d="M935.1,867.5 935.2,867.2 936.2,865.4 937.2,863.5 938.1,861.7 939.1,859.9 940.1,858.0 941.0,856.1 942.0,854.3 943.2,852.5 944.4,850.7 945.5,848.9 946.7,847.1 947.9,845.3 949.1,843.5 950.3,841.7 951.5,839.9 952.6,838.1 953.8,836.3 955.0,834.5 956.4,833.0 957.9,831.5 959.3,829.9 960.7,828.4 962.1,826.9 963.6,825.4 965.0,823.9 965.1,823.7" stroke-dashoffset="49.48"/>
<path d="M965.1,823.7 966.4,822.3 967.9,820.8 969.3,819.3 970.7,817.8 972.1,816.2 973.6,814.7 975.0,813.2 976.9,812.5 978.9,811.9 980.8,811.2 982.8,810.5 984.7,809.8 986.6,809.2 988.6,808.5 990.5,807.8 992.5,807.1 994.4,806.5 996.3,805.8 998.3,805.1 1000.2,804.4 1002.2,803.8 1003.5,803.3" stroke-dashoffset="49.64"/>
<path d="M1003.5,803.3 1004.1,803.1 1005.8,804.3 1007.5,805.5 1009.2,806.7 1010.9,807.9 1012.6,809.1 1014.3,810.3 1016.0,811.5 1017.8,812.8 1019.5,814.0 1021.2,815.2 1022.9,816.4 1024.6,817.6 1026.3,818.8 1028.0,820.0 1029.2,821.7 1030.5,823.5 1031.7,825.2 1032.9,826.9 1034.2,828.7 1035.4,830.4 1036.3,831.7" stroke-dashoffset="58.27"/>
<path d="M1036.3,831.7 1036.6,832.1 1037.8,833.8 1039.1,835.6 1040.3,837.3 1041.5,839.0 1042.8,840.8 1044.0,842.5 1045.2,844.3 1046.3,846.1 1047.5,847.9 1048.7,849.7 1049.8,851.5 1051.0,853.4 1052.2,855.2 1053.3,857.0 1054.5,858.8 1055.7,860.6 1056.8,862.4 1058.0,864.2 1059.0,866.1 1060.0,868.0 1061.0,869.9 1062.0,871.8 1063.0,873.7 1064.0,875.6 1064.5,876.5" stroke-dashoffset="50.02"/>
<path d="M1064.5,876.5 1065.0,877.5 1066.0,879.4 1067.0,881.3 1068.0,883.2 1069.0,885.1 1070.0,887.0 1071.0,888.9 1072.2,890.7 1073.5,892.4 1074.8,894.2 1076.0,895.9 1077.2,897.7 1078.5,899.5 1079.8,901.2 1081.0,903.0 1082.2,904.7 1083.5,906.5 1084.8,908.2 1086.0,910.0 1086.3,912.0 1086.6,914.0 1086.9,915.9 1087.2,917.9 1087.6,919.9 1087.9,921.9 1088.2,923.9 1088.5,925.9 1088.6,926.6" stroke-dashoffset="49.45"/>
<path d="M1088.6,926.6 1088.8,927.8 1089.1,929.8 1089.4,931.8 1089.8,933.8 1090.1,935.8 1090.4,937.7 1090.7,939.7 1091.0,941.7 1091.6,943.7 1092.1,945.7 1092.7,947.7 1093.3,949.7 1093.9,951.7 1094.4,953.7 1095.0,955.8 1095.6,957.8 1096.1,959.8 1096.7,961.8 1097.3,963.8 1097.9,965.8 1098.4,967.8 1099.0,969.8 1099.9,971.7 1100.7,973.6 1101.6,975.5 1102.4,977.4 1103.3,979.3 1104.1,981.2 1104.9,982.8" stroke-dashoffset="46.34"/>
<path d="M1104.9,982.8 1105.0,983.1 1105.9,985.0 1106.7,986.9 1107.6,988.8 1108.4,990.7 1109.3,992.6 1110.1,994.5 1111.0,996.4 1111.6,998.4 1112.2,1000.5 1112.8,1002.5 1113.3,1004.6 1113.9,1006.6 1114.5,1008.7 1115.1,1010.8 1115.7,1012.8 1116.2,1014.9 1116.8,1016.9 1117.4,1019.0 1118.0,1021.0 1120.0,1021.7 1122.0,1022.3 1124.0,1023.0 1126.0,1023.7 1128.0,1024.3 1130.0,1025.0 1131.1,1025.2" stroke-dashoffset="47.40"/>
<path d="M1131.1,1025.2 1132.2,1025.4 1134.3,1025.8 1136.5,1026.2 1138.7,1026.7 1140.8,1027.1 1143.0,1027.5 1144.9,1028.4 1146.9,1029.4 1148.8,1030.3 1150.7,1031.2 1152.6,1032.1 1154.6,1033.1 1156.5,1034.0 1158.4,1034.9 1160.4,1035.9 1162.3,1036.8 1164.2,1037.7 1166.1,1038.6 1168.1,1039.6 1170.0,1040.5" stroke-dashoffset="50.89"/>
</g>
</g>
<g fill="#000" stroke="#000" stroke-width="0.4">
<text transform="translate(304.3,1052.3) scale(1,1.035)" font-family="Liberation Sans, Arial, sans-serif" font-size="44" text-anchor="end">0.00E+000</text>
<g transform="translate(304.3,960.8) scale(1,1.035)"><text id="t1" x="0" y="0" font-family="Liberation Sans, Arial, sans-serif" font-size="44" text-anchor="end">5.00E-012</text><g fill="#fdfdfd" stroke="none"><rect x="-46.60" y="-3.89" width="8.49" height="5.49"/><rect x="-33.78" y="-3.89" width="8.15" height="5.49"/></g></g>
<g transform="translate(304.3,869.3) scale(1,1.035)"><text id="t2" x="0" y="0" font-family="Liberation Sans, Arial, sans-serif" font-size="44" text-anchor="end">1.00E-011</text><g fill="#fdfdfd" stroke="none"><rect x="-197.39" y="-3.89" width="8.49" height="5.49"/><rect x="-184.57" y="-3.89" width="8.15" height="5.49"/><rect x="-43.33" y="-3.89" width="8.49" height="5.49"/><rect x="-30.51" y="-3.89" width="8.15" height="5.49"/><rect x="-22.12" y="-3.89" width="8.49" height="5.49"/><rect x="-9.30" y="-3.89" width="8.15" height="5.49"/></g></g>
<g transform="translate(304.3,777.8) scale(1,1.035)"><text id="t3" x="0" y="0" font-family="Liberation Sans, Arial, sans-serif" font-size="44" text-anchor="end">1.50E-011</text><g fill="#fdfdfd" stroke="none"><rect x="-197.39" y="-3.89" width="8.49" height="5.49"/><rect x="-184.57" y="-3.89" width="8.15" height="5.49"/><rect x="-43.33" y="-3.89" width="8.49" height="5.49"/><rect x="-30.51" y="-3.89" width="8.15" height="5.49"/><rect x="-22.12" y="-3.89" width="8.49" height="5.49"/><rect x="-9.30" y="-3.89" width="8.15" height="5.49"/></g></g>
<g transform="translate(304.3,686.3) scale(1,1.035)"><text id="t4" x="0" y="0" font-family="Liberation Sans, Arial, sans-serif" font-size="44" text-anchor="end">2.00E-011</text><g fill="#fdfdfd" stroke="none"><rect x="-43.33" y="-3.89" width="8.49" height="5.49"/><rect x="-30.51" y="-3.89" width="8.15" height="5.49"/><rect x="-22.12" y="-3.89" width="8.49" height="5.49"/><rect x="-9.30" y="-3.89" width="8.15" height="5.49"/></g></g>
<g transform="translate(304.3,594.8) scale(1,1.035)"><text id="t5" x="0" y="0" font-family="Liberation Sans, Arial, sans-serif" font-size="44" text-anchor="end">2.50E-011</text><g fill="#fdfdfd" stroke="none"><rect x="-43.33" y="-3.89" width="8.49" height="5.49"/><rect x="-30.51" y="-3.89" width="8.15" height="5.49"/><rect x="-22.12" y="-3.89" width="8.49" height="5.49"/><rect x="-9.30" y="-3.89" width="8.15" height="5.49"/></g></g>
<g transform="translate(304.3,503.3) scale(1,1.035)"><text id="t6" x="0" y="0" font-family="Liberation Sans, Arial, sans-serif" font-size="44" text-anchor="end">3.00E-011</text><g fill="#fdfdfd" stroke="none"><rect x="-43.33" y="-3.89" width="8.49" height="5.49"/><rect x="-30.51" y="-3.89" width="8.15" height="5.49"/><rect x="-22.12" y="-3.89" width="8.49" height="5.49"/><rect x="-9.30" y="-3.89" width="8.15" height="5.49"/></g></g>
<g transform="translate(304.3,411.8) scale(1,1.035)"><text id="t7" x="0" y="0" font-family="Liberation Sans, Arial, sans-serif" font-size="44" text-anchor="end">3.50E-011</text><g fill="#fdfdfd" stroke="none"><rect x="-43.33" y="-3.89" width="8.49" height="5.49"/><rect x="-30.51" y="-3.89" width="8.15" height="5.49"/><rect x="-22.12" y="-3.89" width="8.49" height="5.49"/><rect x="-9.30" y="-3.89" width="8.15" height="5.49"/></g></g>
<g transform="translate(304.3,320.3) scale(1,1.035)"><text id="t8" x="0" y="0" font-family="Liberation Sans, Arial, sans-serif" font-size="44" text-anchor="end">4.00E-011</text><g fill="#fdfdfd" stroke="none"><rect x="-43.33" y="-3.89" width="8.49" height="5.49"/><rect x="-30.51" y="-3.89" width="8.15" height="5.49"/><rect x="-22.12" y="-3.89" width="8.49" height="5.49"/><rect x="-9.30" y="-3.89" width="8.15" height="5.49"/></g></g>
<g transform="translate(304.3,228.8) scale(1,1.035)"><text id="t9" x="0" y="0" font-family="Liberation Sans, Arial, sans-serif" font-size="44" text-anchor="end">4.50E-011</text><g fill="#fdfdfd" stroke="none"><rect x="-43.33" y="-3.89" width="8.49" height="5.49"/><rect x="-30.51" y="-3.89" width="8.15" height="5.49"/><rect x="-22.12" y="-3.89" width="8.49" height="5.49"/><rect x="-9.30" y="-3.89" width="8.15" height="5.49"/></g></g>
<g transform="translate(304.3,137.3) scale(1,1.035)"><text id="t10" x="0" y="0" font-family="Liberation Sans, Arial, sans-serif" font-size="44" text-anchor="end">5.00E-011</text><g fill="#fdfdfd" stroke="none"><rect x="-43.33" y="-3.89" width="8.49" height="5.49"/><rect x="-30.51" y="-3.89" width="8.15" height="5.49"/><rect x="-22.12" y="-3.89" width="8.49" height="5.49"/><rect x="-9.30" y="-3.89" width="8.15" height="5.49"/></g></g>
<g transform="translate(304.3,45.8) scale(1,1.035)"><text id="t11" x="0" y="0" font-family="Liberation Sans, Arial, sans-serif" font-size="44" text-anchor="end">5.50E-011</text><g fill="#fdfdfd" stroke="none"><rect x="-43.33" y="-3.89" width="8.49" height="5.49"/><rect x="-30.51" y="-3.89" width="8.15" height="5.49"/><rect x="-22.12" y="-3.89" width="8.49" height="5.49"/><rect x="-9.30" y="-3.89" width="8.15" height="5.49"/></g></g>
<text transform="translate(338.6,1107.0) scale(1,1.035)" font-family="Liberation Sans, Arial, sans-serif" font-size="44" text-anchor="middle">-40</text>
<text transform="translate(474.2,1107.0) scale(1,1.035)" font-family="Liberation Sans, Arial, sans-serif" font-size="44" text-anchor="middle">-20</text>
<text transform="translate(609.9,1107.0) scale(1,1.035)" font-family="Liberation Sans, Arial, sans-serif" font-size="44" text-anchor="middle">0</text>
<text transform="translate(745.5,1107.0) scale(1,1.035)" font-family="Liberation Sans, Arial, sans-serif" font-size="44" text-anchor="middle">20</text>
<text transform="translate(881.2,1107.0) scale(1,1.035)" font-family="Liberation Sans, Arial, sans-serif" font-size="44" text-anchor="middle">40</text>
<text transform="translate(1016.9,1107.0) scale(1,1.035)" font-family="Liberation Sans, Arial, sans-serif" font-size="44" text-anchor="middle">60</text>
<text transform="translate(1152.5,1107.0) scale(1,1.035)" font-family="Liberation Sans, Arial, sans-serif" font-size="44" text-anchor="middle">80</text>
<g transform="translate(1288.2,1107.0) scale(1,1.035)"><text id="t12" x="0" y="0" font-family="Liberation Sans, Arial, sans-serif" font-size="44" text-anchor="middle">100</text><g fill="#fdfdfd" stroke="none"><rect x="-34.35" y="-3.89" width="8.49" height="5.49"/><rect x="-21.53" y="-3.89" width="8.15" height="5.49"/></g></g>
<g transform="translate(1423.8,1107.0) scale(1,1.035)"><text id="t13" x="0" y="0" font-family="Liberation Sans, Arial, sans-serif" font-size="44" text-anchor="middle">120</text><g fill="#fdfdfd" stroke="none"><rect x="-34.35" y="-3.89" width="8.49" height="5.49"/><rect x="-21.53" y="-3.89" width="8.15" height="5.49"/></g></g>
<g transform="translate(1559.4,1107.0) scale(1,1.035)"><text id="t14" x="0" y="0" font-family="Liberation Sans, Arial, sans-serif" font-size="44" text-anchor="middle">140</text><g fill="#fdfdfd" stroke="none"><rect x="-34.35" y="-3.89" width="8.49" height="5.49"/><rect x="-21.53" y="-3.89" width="8.15" height="5.49"/></g></g>
<g transform="translate(1695.1,1107.0) scale(1,1.035)"><text id="t15" x="0" y="0" font-family="Liberation Sans, Arial, sans-serif" font-size="44" text-anchor="middle">160</text><g fill="#fdfdfd" stroke="none"><rect x="-34.35" y="-3.89" width="8.49" height="5.49"/><rect x="-21.53" y="-3.89" width="8.15" height="5.49"/></g></g>
<text transform="translate(780.0,1169.5) scale(1,1.030)" font-family="Liberation Sans, Arial, sans-serif" font-size="63.4">temperature</text>
<text transform="translate(1137.0,1169.5) scale(1,1.030)" font-family="Liberation Sans, Arial, sans-serif" font-size="63.4">(</text>
<text x="1161.5" y="1166.5" font-family="Liberation Sans, Noto Serif CJK SC, serif" font-size="57">℃</text>
<text transform="translate(1225.0,1169.5) scale(1,1.030)" font-family="Liberation Sans, Arial, sans-serif" font-size="63.4">)</text>
<text transform="translate(68.7,661.5) rotate(-90)" font-family="Liberation Sans, Arial, sans-serif" font-size="64">current (A)</text>
<rect x="340" y="32" width="520.5" height="442" fill="#fdfdfd" stroke="#000" stroke-width="1.8"/>
<line x1="362.1" y1="68.4" x2="481.5" y2="68.4" stroke="#000000" stroke-width="8" stroke-linecap="round"/>
<text transform="translate(496.0,86.9) scale(1,1.012)" font-family="Liberation Sans, Arial, sans-serif" font-size="54">PP</text>
<line x1="362.1" y1="134.5" x2="481.5" y2="134.5" stroke="#ff0000" stroke-width="8" stroke-linecap="round" stroke-dasharray="5.1 37.5"/>
<text transform="translate(496.0,153.0) scale(1,1.012)" font-family="Liberation Sans, Arial, sans-serif" font-size="54">PP/SEBS</text>
<line x1="362.1" y1="200.7" x2="481.5" y2="200.7" stroke="#0000ff" stroke-width="8" stroke-linecap="round" stroke-dasharray="26.6 23.7 4.9 23.7 4.9 24.3"/>
<text transform="translate(496.0,219.2) scale(1,1.012)" font-family="Liberation Sans, Arial, sans-serif" font-size="54">PP/SiO<tspan font-size="30" dy="17">2</tspan><tspan dy="-17">/SEBS</tspan></text>
<line x1="362.1" y1="281.5" x2="481.5" y2="281.5" stroke="#ff00ff" stroke-width="8" stroke-linecap="round" stroke-dasharray="0.1 14.2"/>
<text transform="translate(496.0,300.0) scale(1,1.012)" font-family="Liberation Sans, Arial, sans-serif" font-size="54">PP/SEBS/SiO<tspan font-size="30" dy="17">2</tspan></text>
<line x1="362.1" y1="362.9" x2="481.5" y2="362.9" stroke="#008000" stroke-width="8" stroke-linecap="round" stroke-dasharray="11.7 20.5"/>
<text transform="translate(496.0,381.4) scale(1,1.012)" font-family="Liberation Sans, Arial, sans-serif" font-size="54">SEBS/SiO<tspan font-size="30" dy="17">2</tspan><tspan dy="-17">/PP</tspan></text>
<line x1="362.1" y1="443.9" x2="481.5" y2="443.9" stroke="#990099" stroke-width="8" stroke-linecap="round" stroke-dasharray="30.5 40.4"/>
<text transform="translate(496.0,462.4) scale(1,1.012)" font-family="Liberation Sans, Arial, sans-serif" font-size="54">XLPE</text>
<g transform="translate(917.3,425.6) scale(1,0.965)"><text id="t16" x="0" y="0" font-family="Liberation Sans, Arial, sans-serif" font-size="53.3" font-style="italic">peak 1</text><g fill="#fdfdfd" stroke="none"><polygon points="130.68,1.56 131.72,-4.40 141.63,-4.40 140.54,1.56"/><polygon points="145.98,1.56 146.76,-4.40 156.26,-4.40 155.74,1.56"/></g></g>
<text transform="translate(1042.3,220.1) scale(1,0.965)" font-family="Liberation Sans, Arial, sans-serif" font-size="53.3" font-style="italic">peak 2</text>
<line x1="1028.2" y1="441.8" x2="1113.5" y2="524.9" stroke="#000" stroke-width="1.6"/><polygon points="1130.0,541.0 1107.9,527.8 1116.3,519.3" fill="#000"/>
<line x1="1225.8" y1="176.6" x2="1370.7" y2="86.6" stroke="#000" stroke-width="1.6"/><polygon points="1390.2,74.5 1372.1,92.8 1365.8,82.6" fill="#000"/>
<line x1="1225.8" y1="194.0" x2="1420.1" y2="214.8" stroke="#000" stroke-width="1.6"/><polygon points="1443.0,217.2 1417.5,220.5 1418.8,208.6" fill="#000"/>
<path d="M706.9,0 H727 V1.9 H725 V0.9 H709 V1.9 H706.9 Z" fill="#000" stroke="none"/>
</g>
</svg>
</body></html>
